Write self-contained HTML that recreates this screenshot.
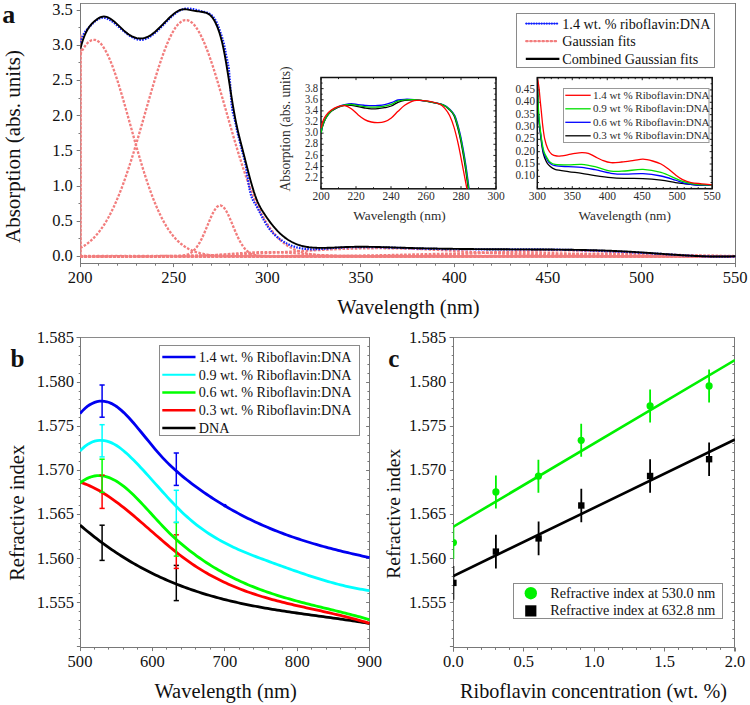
<!DOCTYPE html>
<html><head><meta charset="utf-8"><style>
html,body{margin:0;padding:0;background:#fff;}
svg{display:block;}
text{font-family:"Liberation Serif", serif;fill:#111;}
.it text{fill:#2c2c2c;}
</style></head><body>
<svg width="750" height="705" viewBox="0 0 750 705">
<rect width="750" height="705" fill="#fff"/>
<clipPath id="clipA"><rect x="80.3" y="3.4" width="655.2" height="259.6"/></clipPath>
<line x1="80" y1="3.5" x2="736" y2="3.5" stroke="#8a8a8a" stroke-width="1"/>
<line x1="735.5" y1="3" x2="735.5" y2="267" stroke="#787878" stroke-width="1"/>
<line x1="80.5" y1="3" x2="80.5" y2="267" stroke="#787878" stroke-width="1"/>
<line x1="80" y1="263.5" x2="736" y2="263.5" stroke="#787878" stroke-width="1"/>
<line x1="76.70" y1="256.5" x2="80.5" y2="256.5" stroke="#787878" stroke-width="1"/>
<text transform="translate(72.90,261.10) scale(0.94,1)" font-size="17.6" text-anchor="end">0.0</text>
<line x1="78.50" y1="238.5" x2="80.5" y2="238.5" stroke="#787878" stroke-width="1"/>
<line x1="76.70" y1="221.5" x2="80.5" y2="221.5" stroke="#787878" stroke-width="1"/>
<text transform="translate(72.90,225.95) scale(0.94,1)" font-size="17.6" text-anchor="end">0.5</text>
<line x1="78.50" y1="203.5" x2="80.5" y2="203.5" stroke="#787878" stroke-width="1"/>
<line x1="76.70" y1="186.5" x2="80.5" y2="186.5" stroke="#787878" stroke-width="1"/>
<text transform="translate(72.90,190.80) scale(0.94,1)" font-size="17.6" text-anchor="end">1.0</text>
<line x1="78.50" y1="168.5" x2="80.5" y2="168.5" stroke="#787878" stroke-width="1"/>
<line x1="76.70" y1="150.5" x2="80.5" y2="150.5" stroke="#787878" stroke-width="1"/>
<text transform="translate(72.90,155.65) scale(0.94,1)" font-size="17.6" text-anchor="end">1.5</text>
<line x1="78.50" y1="133.5" x2="80.5" y2="133.5" stroke="#787878" stroke-width="1"/>
<line x1="76.70" y1="115.5" x2="80.5" y2="115.5" stroke="#787878" stroke-width="1"/>
<text transform="translate(72.90,120.50) scale(0.94,1)" font-size="17.6" text-anchor="end">2.0</text>
<line x1="78.50" y1="98.5" x2="80.5" y2="98.5" stroke="#787878" stroke-width="1"/>
<line x1="76.70" y1="80.5" x2="80.5" y2="80.5" stroke="#787878" stroke-width="1"/>
<text transform="translate(72.90,85.35) scale(0.94,1)" font-size="17.6" text-anchor="end">2.5</text>
<line x1="78.50" y1="62.5" x2="80.5" y2="62.5" stroke="#787878" stroke-width="1"/>
<line x1="76.70" y1="45.5" x2="80.5" y2="45.5" stroke="#787878" stroke-width="1"/>
<text transform="translate(72.90,50.20) scale(0.94,1)" font-size="17.6" text-anchor="end">3.0</text>
<line x1="78.50" y1="27.5" x2="80.5" y2="27.5" stroke="#787878" stroke-width="1"/>
<line x1="76.70" y1="10.5" x2="80.5" y2="10.5" stroke="#787878" stroke-width="1"/>
<text transform="translate(72.90,15.05) scale(0.94,1)" font-size="17.6" text-anchor="end">3.5</text>
<line x1="80.5" y1="263.5" x2="80.5" y2="267.10" stroke="#787878" stroke-width="1"/>
<text transform="translate(80.20,282.50) scale(0.94,1)" font-size="17.6" text-anchor="middle">200</text>
<line x1="98.5" y1="263.5" x2="98.5" y2="265.70" stroke="#787878" stroke-width="1"/>
<line x1="117.5" y1="263.5" x2="117.5" y2="265.70" stroke="#787878" stroke-width="1"/>
<line x1="136.5" y1="263.5" x2="136.5" y2="265.70" stroke="#787878" stroke-width="1"/>
<line x1="155.5" y1="263.5" x2="155.5" y2="265.70" stroke="#787878" stroke-width="1"/>
<line x1="173.5" y1="263.5" x2="173.5" y2="267.10" stroke="#787878" stroke-width="1"/>
<text transform="translate(173.75,282.50) scale(0.94,1)" font-size="17.6" text-anchor="middle">250</text>
<line x1="192.5" y1="263.5" x2="192.5" y2="265.70" stroke="#787878" stroke-width="1"/>
<line x1="211.5" y1="263.5" x2="211.5" y2="265.70" stroke="#787878" stroke-width="1"/>
<line x1="229.5" y1="263.5" x2="229.5" y2="265.70" stroke="#787878" stroke-width="1"/>
<line x1="248.5" y1="263.5" x2="248.5" y2="265.70" stroke="#787878" stroke-width="1"/>
<line x1="267.5" y1="263.5" x2="267.5" y2="267.10" stroke="#787878" stroke-width="1"/>
<text transform="translate(267.30,282.50) scale(0.94,1)" font-size="17.6" text-anchor="middle">300</text>
<line x1="286.5" y1="263.5" x2="286.5" y2="265.70" stroke="#787878" stroke-width="1"/>
<line x1="304.5" y1="263.5" x2="304.5" y2="265.70" stroke="#787878" stroke-width="1"/>
<line x1="323.5" y1="263.5" x2="323.5" y2="265.70" stroke="#787878" stroke-width="1"/>
<line x1="342.5" y1="263.5" x2="342.5" y2="265.70" stroke="#787878" stroke-width="1"/>
<line x1="360.5" y1="263.5" x2="360.5" y2="267.10" stroke="#787878" stroke-width="1"/>
<text transform="translate(360.85,282.50) scale(0.94,1)" font-size="17.6" text-anchor="middle">350</text>
<line x1="379.5" y1="263.5" x2="379.5" y2="265.70" stroke="#787878" stroke-width="1"/>
<line x1="398.5" y1="263.5" x2="398.5" y2="265.70" stroke="#787878" stroke-width="1"/>
<line x1="416.5" y1="263.5" x2="416.5" y2="265.70" stroke="#787878" stroke-width="1"/>
<line x1="435.5" y1="263.5" x2="435.5" y2="265.70" stroke="#787878" stroke-width="1"/>
<line x1="454.5" y1="263.5" x2="454.5" y2="267.10" stroke="#787878" stroke-width="1"/>
<text transform="translate(454.40,282.50) scale(0.94,1)" font-size="17.6" text-anchor="middle">400</text>
<line x1="473.5" y1="263.5" x2="473.5" y2="265.70" stroke="#787878" stroke-width="1"/>
<line x1="491.5" y1="263.5" x2="491.5" y2="265.70" stroke="#787878" stroke-width="1"/>
<line x1="510.5" y1="263.5" x2="510.5" y2="265.70" stroke="#787878" stroke-width="1"/>
<line x1="529.5" y1="263.5" x2="529.5" y2="265.70" stroke="#787878" stroke-width="1"/>
<line x1="547.5" y1="263.5" x2="547.5" y2="267.10" stroke="#787878" stroke-width="1"/>
<text transform="translate(547.95,282.50) scale(0.94,1)" font-size="17.6" text-anchor="middle">450</text>
<line x1="566.5" y1="263.5" x2="566.5" y2="265.70" stroke="#787878" stroke-width="1"/>
<line x1="585.5" y1="263.5" x2="585.5" y2="265.70" stroke="#787878" stroke-width="1"/>
<line x1="604.5" y1="263.5" x2="604.5" y2="265.70" stroke="#787878" stroke-width="1"/>
<line x1="622.5" y1="263.5" x2="622.5" y2="265.70" stroke="#787878" stroke-width="1"/>
<line x1="641.5" y1="263.5" x2="641.5" y2="267.10" stroke="#787878" stroke-width="1"/>
<text transform="translate(641.50,282.50) scale(0.94,1)" font-size="17.6" text-anchor="middle">500</text>
<line x1="660.5" y1="263.5" x2="660.5" y2="265.70" stroke="#787878" stroke-width="1"/>
<line x1="678.5" y1="263.5" x2="678.5" y2="265.70" stroke="#787878" stroke-width="1"/>
<line x1="697.5" y1="263.5" x2="697.5" y2="265.70" stroke="#787878" stroke-width="1"/>
<line x1="716.5" y1="263.5" x2="716.5" y2="265.70" stroke="#787878" stroke-width="1"/>
<line x1="735.5" y1="263.5" x2="735.5" y2="267.10" stroke="#787878" stroke-width="1"/>
<text transform="translate(735.05,282.50) scale(0.94,1)" font-size="17.6" text-anchor="middle">550</text>
<text x="408.50" y="313.50" font-size="20.5" text-anchor="middle" >Wavelength (nm)</text>
<text x="0" y="0" font-size="21" text-anchor="middle" transform="translate(19.6,146.5) rotate(-90)">Absorption (abs. units)</text>
<text x="2.30" y="23.30" font-size="26" text-anchor="start" font-weight="bold">a</text>
<g clip-path="url(#clipA)">
<path d="M80.3,256.50 L735.5,256.50" stroke="#f6b0b0" stroke-width="2.0" fill="none"/>
<path d="M80.3,256.60 L735.5,256.60" stroke="#f27d7d" stroke-width="2.2" fill="none" stroke-dasharray="2.6 1.5"/>
<path d="M80.3,255.50 L585.37,255.50" stroke="#f27d7d" stroke-width="1.6" fill="none" stroke-dasharray="2 2.5" stroke-dashoffset="1"/>
<path d="M81.0,256.30 L81.0,34.86" stroke="#f5a5a5" stroke-width="1.3" fill="none"/>
<path d="M81.0,256.30 L81.0,34.86" stroke="#f27d7d" stroke-width="1.5" fill="none" stroke-dasharray="2.6 1.5"/>
<path d="M80.20,54.43 L82.07,50.79 L83.94,47.63 L85.81,44.98 L87.68,42.85 L89.56,41.28 L91.43,40.26 L93.30,39.80 L95.17,39.92 L97.04,40.60 L98.91,41.84 L100.78,43.64 L102.65,45.97 L104.52,48.83 L106.39,52.19 L108.27,56.02 L110.14,60.29 L112.01,64.97 L113.88,70.04 L115.75,75.44 L117.62,81.15 L119.49,87.13 L121.36,93.33 L123.23,99.72 L125.10,106.25 L126.97,112.88 L128.85,119.59 L130.72,126.32 L132.59,133.04 L134.46,139.73 L136.33,146.34 L138.20,152.85 L140.07,159.23 L141.94,165.45 L143.81,171.50 L145.69,177.35 L147.56,183.00 L149.43,188.41 L151.30,193.60 L153.17,198.54 L155.04,203.23 L156.91,207.66 L158.78,211.85 L160.65,215.78 L162.52,219.46 L164.39,222.89 L166.27,226.08 L168.14,229.04 L170.01,231.78 L171.88,234.30 L173.75,236.61 L175.62,238.72 L177.49,240.65 L179.36,242.41 L181.23,244.00 L183.11,245.43 L184.98,246.73 L186.85,247.89 L188.72,248.93 L190.59,249.86 L192.46,250.68 L194.33,251.42 L196.20,252.07 L198.07,252.64 L199.94,253.14 L201.81,253.58 L203.69,253.97 L205.56,254.30 L207.43,254.60 L209.30,254.85 L211.17,255.07 L213.04,255.26 L214.91,255.42 L216.78,255.56 L218.65,255.68 L220.52,255.78 L222.40,255.86 L224.27,255.94 L226.14,256.00 L228.01,256.05 L229.88,256.09 L231.75,256.13 L233.62,256.16 L235.49,256.18 L237.36,256.21 L239.24,256.22 L241.11,256.24 L242.98,256.25 L244.85,256.26 L246.72,256.27 L248.59,256.27 L250.46,256.28 L252.33,256.28 L254.20,256.29 L256.07,256.29 L257.94,256.29 L259.82,256.29 L261.69,256.29 L263.56,256.30 L265.43,256.30 L267.30,256.30 L269.17,256.30 L271.04,256.30 L272.91,256.30 L274.78,256.30 L276.66,256.30 L278.53,256.30 L280.40,256.30 L282.27,256.30 L284.14,256.30 L286.01,256.30 L287.88,256.30 L289.75,256.30 L291.62,256.30 L293.49,256.30 L295.37,256.30 L297.24,256.30 L299.11,256.30 L300.98,256.30 L302.85,256.30 L304.72,256.30 L306.59,256.30 L308.46,256.30 L310.33,256.30 L312.20,256.30 L314.07,256.30 L315.95,256.30 L317.82,256.30 L319.69,256.30 L321.56,256.30 L323.43,256.30 L325.30,256.30 L327.17,256.30 L329.04,256.30 L330.91,256.30 L332.79,256.30 L334.66,256.30 L336.53,256.30 L338.40,256.30 L340.27,256.30 L342.14,256.30 L344.01,256.30 L345.88,256.30 L347.75,256.30 L349.62,256.30 L351.50,256.30 L353.37,256.30 L355.24,256.30 L357.11,256.30 L358.98,256.30 L360.85,256.30 L362.72,256.30 L364.59,256.30 L366.46,256.30 L368.33,256.30 L370.20,256.30 L372.08,256.30 L373.95,256.30 L375.82,256.30 L377.69,256.30 L379.56,256.30 L381.43,256.30 L383.30,256.30 L385.17,256.30 L387.04,256.30 L388.91,256.30 L390.79,256.30 L392.66,256.30 L394.53,256.30 L396.40,256.30 L398.27,256.30 L400.14,256.30 L402.01,256.30 L403.88,256.30 L405.75,256.30 L407.62,256.30 L409.50,256.30 L411.37,256.30 L413.24,256.30 L415.11,256.30 L416.98,256.30 L418.85,256.30 L420.72,256.30 L422.59,256.30 L424.46,256.30 L426.33,256.30 L428.21,256.30 L430.08,256.30 L431.95,256.30 L433.82,256.30 L435.69,256.30 L437.56,256.30 L439.43,256.30 L441.30,256.30 L443.17,256.30 L445.05,256.30 L446.92,256.30 L448.79,256.30 L450.66,256.30 L452.53,256.30 L454.40,256.30 L456.27,256.30 L458.14,256.30 L460.01,256.30 L461.88,256.30 L463.75,256.30 L465.63,256.30 L467.50,256.30 L469.37,256.30 L471.24,256.30 L473.11,256.30 L474.98,256.30 L476.85,256.30 L478.72,256.30 L480.59,256.30 L482.46,256.30 L484.34,256.30 L486.21,256.30 L488.08,256.30 L489.95,256.30 L491.82,256.30 L493.69,256.30 L495.56,256.30 L497.43,256.30 L499.30,256.30 L501.18,256.30 L503.05,256.30 L504.92,256.30 L506.79,256.30 L508.66,256.30 L510.53,256.30 L512.40,256.30 L514.27,256.30 L516.14,256.30 L518.01,256.30 L519.88,256.30 L521.76,256.30 L523.63,256.30 L525.50,256.30 L527.37,256.30 L529.24,256.30 L531.11,256.30 L532.98,256.30 L534.85,256.30 L536.72,256.30 L538.60,256.30 L540.47,256.30 L542.34,256.30 L544.21,256.30 L546.08,256.30 L547.95,256.30 L549.82,256.30 L551.69,256.30 L553.56,256.30 L555.43,256.30 L557.31,256.30 L559.18,256.30 L561.05,256.30 L562.92,256.30 L564.79,256.30 L566.66,256.30 L568.53,256.30 L570.40,256.30 L572.27,256.30 L574.14,256.30 L576.01,256.30 L577.89,256.30 L579.76,256.30 L581.63,256.30 L583.50,256.30 L585.37,256.30 L587.24,256.30 L589.11,256.30 L590.98,256.30 L592.85,256.30 L594.73,256.30 L596.60,256.30 L598.47,256.30 L600.34,256.30 L602.21,256.30 L604.08,256.30 L605.95,256.30 L607.82,256.30 L609.69,256.30 L611.56,256.30 L613.44,256.30 L615.31,256.30 L617.18,256.30 L619.05,256.30 L620.92,256.30 L622.79,256.30 L624.66,256.30 L626.53,256.30 L628.40,256.30 L630.27,256.30 L632.15,256.30 L634.02,256.30 L635.89,256.30 L637.76,256.30 L639.63,256.30 L641.50,256.30 L643.37,256.30 L645.24,256.30 L647.11,256.30 L648.98,256.30 L650.86,256.30 L652.73,256.30 L654.60,256.30 L656.47,256.30 L658.34,256.30 L660.21,256.30 L662.08,256.30 L663.95,256.30 L665.82,256.30 L667.69,256.30 L669.57,256.30 L671.44,256.30 L673.31,256.30 L675.18,256.30 L677.05,256.30 L678.92,256.30 L680.79,256.30 L682.66,256.30 L684.53,256.30 L686.40,256.30 L688.28,256.30 L690.15,256.30 L692.02,256.30 L693.89,256.30 L695.76,256.30 L697.63,256.30 L699.50,256.30 L701.37,256.30 L703.24,256.30 L705.11,256.30 L706.99,256.30 L708.86,256.30 L710.73,256.30 L712.60,256.30 L714.47,256.30 L716.34,256.30 L718.21,256.30 L720.08,256.30 L721.95,256.30 L723.82,256.30 L725.70,256.30 L727.57,256.30 L729.44,256.30 L731.31,256.30 L733.18,256.30 L735.05,256.30" stroke="#f27d7d" stroke-width="2.3" fill="none" stroke-dasharray="2.6 1.5"/>
<path d="M80.20,248.08 L82.07,247.06 L83.94,245.92 L85.81,244.67 L87.68,243.30 L89.56,241.80 L91.43,240.16 L93.30,238.36 L95.17,236.42 L97.04,234.30 L98.91,232.02 L100.78,229.55 L102.65,226.89 L104.52,224.04 L106.39,220.98 L108.27,217.72 L110.14,214.24 L112.01,210.55 L113.88,206.64 L115.75,202.50 L117.62,198.15 L119.49,193.57 L121.36,188.78 L123.23,183.77 L125.10,178.56 L126.97,173.14 L128.85,167.53 L130.72,161.75 L132.59,155.80 L134.46,149.70 L136.33,143.47 L138.20,137.13 L140.07,130.69 L141.94,124.18 L143.81,117.63 L145.69,111.06 L147.56,104.50 L149.43,97.97 L151.30,91.52 L153.17,85.16 L155.04,78.92 L156.91,72.85 L158.78,66.97 L160.65,61.31 L162.52,55.90 L164.39,50.77 L166.27,45.96 L168.14,41.49 L170.01,37.38 L171.88,33.67 L173.75,30.36 L175.62,27.49 L177.49,25.07 L179.36,23.12 L181.23,21.64 L183.11,20.65 L184.98,20.15 L186.85,20.15 L188.72,20.65 L190.59,21.64 L192.46,23.12 L194.33,25.07 L196.20,27.49 L198.07,30.36 L199.94,33.67 L201.81,37.38 L203.69,41.49 L205.56,45.96 L207.43,50.77 L209.30,55.90 L211.17,61.31 L213.04,66.97 L214.91,72.85 L216.78,78.92 L218.65,85.16 L220.52,91.52 L222.40,97.97 L224.27,104.50 L226.14,111.06 L228.01,117.63 L229.88,124.18 L231.75,130.69 L233.62,137.13 L235.49,143.47 L237.36,149.70 L239.24,155.80 L241.11,161.75 L242.98,167.53 L244.85,173.14 L246.72,178.56 L248.59,183.77 L250.46,188.78 L252.33,193.57 L254.20,198.15 L256.07,202.50 L257.94,206.64 L259.82,210.55 L261.69,214.24 L263.56,217.72 L265.43,220.98 L267.30,224.04 L269.17,226.89 L271.04,229.55 L272.91,232.02 L274.78,234.30 L276.66,236.42 L278.53,238.36 L280.40,240.16 L282.27,241.80 L284.14,243.30 L286.01,244.67 L287.88,245.92 L289.75,247.06 L291.62,248.08 L293.49,249.01 L295.37,249.85 L297.24,250.60 L299.11,251.28 L300.98,251.88 L302.85,252.42 L304.72,252.90 L306.59,253.33 L308.46,253.71 L310.33,254.05 L312.20,254.34 L314.07,254.60 L315.95,254.83 L317.82,255.03 L319.69,255.21 L321.56,255.36 L323.43,255.50 L325.30,255.61 L327.17,255.71 L329.04,255.80 L330.91,255.87 L332.79,255.94 L334.66,255.99 L336.53,256.04 L338.40,256.08 L340.27,256.12 L342.14,256.15 L344.01,256.17 L345.88,256.19 L347.75,256.21 L349.62,256.23 L351.50,256.24 L353.37,256.25 L355.24,256.26 L357.11,256.26 L358.98,256.27 L360.85,256.28 L362.72,256.28 L364.59,256.28 L366.46,256.29 L368.33,256.29 L370.20,256.29 L372.08,256.29 L373.95,256.29 L375.82,256.30 L377.69,256.30 L379.56,256.30 L381.43,256.30 L383.30,256.30 L385.17,256.30 L387.04,256.30 L388.91,256.30 L390.79,256.30 L392.66,256.30 L394.53,256.30 L396.40,256.30 L398.27,256.30 L400.14,256.30 L402.01,256.30 L403.88,256.30 L405.75,256.30 L407.62,256.30 L409.50,256.30 L411.37,256.30 L413.24,256.30 L415.11,256.30 L416.98,256.30 L418.85,256.30 L420.72,256.30 L422.59,256.30 L424.46,256.30 L426.33,256.30 L428.21,256.30 L430.08,256.30 L431.95,256.30 L433.82,256.30 L435.69,256.30 L437.56,256.30 L439.43,256.30 L441.30,256.30 L443.17,256.30 L445.05,256.30 L446.92,256.30 L448.79,256.30 L450.66,256.30 L452.53,256.30 L454.40,256.30 L456.27,256.30 L458.14,256.30 L460.01,256.30 L461.88,256.30 L463.75,256.30 L465.63,256.30 L467.50,256.30 L469.37,256.30 L471.24,256.30 L473.11,256.30 L474.98,256.30 L476.85,256.30 L478.72,256.30 L480.59,256.30 L482.46,256.30 L484.34,256.30 L486.21,256.30 L488.08,256.30 L489.95,256.30 L491.82,256.30 L493.69,256.30 L495.56,256.30 L497.43,256.30 L499.30,256.30 L501.18,256.30 L503.05,256.30 L504.92,256.30 L506.79,256.30 L508.66,256.30 L510.53,256.30 L512.40,256.30 L514.27,256.30 L516.14,256.30 L518.01,256.30 L519.88,256.30 L521.76,256.30 L523.63,256.30 L525.50,256.30 L527.37,256.30 L529.24,256.30 L531.11,256.30 L532.98,256.30 L534.85,256.30 L536.72,256.30 L538.60,256.30 L540.47,256.30 L542.34,256.30 L544.21,256.30 L546.08,256.30 L547.95,256.30 L549.82,256.30 L551.69,256.30 L553.56,256.30 L555.43,256.30 L557.31,256.30 L559.18,256.30 L561.05,256.30 L562.92,256.30 L564.79,256.30 L566.66,256.30 L568.53,256.30 L570.40,256.30 L572.27,256.30 L574.14,256.30 L576.01,256.30 L577.89,256.30 L579.76,256.30 L581.63,256.30 L583.50,256.30 L585.37,256.30 L587.24,256.30 L589.11,256.30 L590.98,256.30 L592.85,256.30 L594.73,256.30 L596.60,256.30 L598.47,256.30 L600.34,256.30 L602.21,256.30 L604.08,256.30 L605.95,256.30 L607.82,256.30 L609.69,256.30 L611.56,256.30 L613.44,256.30 L615.31,256.30 L617.18,256.30 L619.05,256.30 L620.92,256.30 L622.79,256.30 L624.66,256.30 L626.53,256.30 L628.40,256.30 L630.27,256.30 L632.15,256.30 L634.02,256.30 L635.89,256.30 L637.76,256.30 L639.63,256.30 L641.50,256.30 L643.37,256.30 L645.24,256.30 L647.11,256.30 L648.98,256.30 L650.86,256.30 L652.73,256.30 L654.60,256.30 L656.47,256.30 L658.34,256.30 L660.21,256.30 L662.08,256.30 L663.95,256.30 L665.82,256.30 L667.69,256.30 L669.57,256.30 L671.44,256.30 L673.31,256.30 L675.18,256.30 L677.05,256.30 L678.92,256.30 L680.79,256.30 L682.66,256.30 L684.53,256.30 L686.40,256.30 L688.28,256.30 L690.15,256.30 L692.02,256.30 L693.89,256.30 L695.76,256.30 L697.63,256.30 L699.50,256.30 L701.37,256.30 L703.24,256.30 L705.11,256.30 L706.99,256.30 L708.86,256.30 L710.73,256.30 L712.60,256.30 L714.47,256.30 L716.34,256.30 L718.21,256.30 L720.08,256.30 L721.95,256.30 L723.82,256.30 L725.70,256.30 L727.57,256.30 L729.44,256.30 L731.31,256.30 L733.18,256.30 L735.05,256.30" stroke="#f27d7d" stroke-width="2.3" fill="none" stroke-dasharray="2.6 1.5"/>
<path d="M80.20,256.30 L82.07,256.30 L83.94,256.30 L85.81,256.30 L87.68,256.30 L89.56,256.30 L91.43,256.30 L93.30,256.30 L95.17,256.30 L97.04,256.30 L98.91,256.30 L100.78,256.30 L102.65,256.30 L104.52,256.30 L106.39,256.30 L108.27,256.30 L110.14,256.30 L112.01,256.30 L113.88,256.30 L115.75,256.30 L117.62,256.30 L119.49,256.30 L121.36,256.30 L123.23,256.30 L125.10,256.30 L126.97,256.30 L128.85,256.30 L130.72,256.30 L132.59,256.30 L134.46,256.30 L136.33,256.30 L138.20,256.30 L140.07,256.30 L141.94,256.30 L143.81,256.30 L145.69,256.30 L147.56,256.30 L149.43,256.30 L151.30,256.30 L153.17,256.30 L155.04,256.30 L156.91,256.30 L158.78,256.30 L160.65,256.30 L162.52,256.30 L164.39,256.30 L166.27,256.29 L168.14,256.29 L170.01,256.28 L171.88,256.27 L173.75,256.24 L175.62,256.20 L177.49,256.13 L179.36,256.02 L181.23,255.85 L183.11,255.60 L184.98,255.24 L186.85,254.71 L188.72,253.98 L190.59,252.99 L192.46,251.67 L194.33,249.96 L196.20,247.82 L198.07,245.21 L199.94,242.10 L201.81,238.50 L203.69,234.49 L205.56,230.14 L207.43,225.61 L209.30,221.08 L211.17,216.74 L213.04,212.84 L214.91,209.59 L216.78,207.18 L218.65,205.76 L220.52,205.43 L222.40,206.20 L224.27,208.03 L226.14,210.80 L228.01,214.34 L229.88,218.44 L231.75,222.88 L233.62,227.44 L235.49,231.91 L237.36,236.14 L239.24,240.00 L241.11,243.40 L242.98,246.31 L244.85,248.74 L246.72,250.70 L248.59,252.24 L250.46,253.42 L252.33,254.30 L254.20,254.94 L256.07,255.40 L257.94,255.71 L259.82,255.93 L261.69,256.07 L263.56,256.16 L265.43,256.22 L267.30,256.25 L269.17,256.27 L271.04,256.28 L272.91,256.29 L274.78,256.30 L276.66,256.30 L278.53,256.30 L280.40,256.30 L282.27,256.30 L284.14,256.30 L286.01,256.30 L287.88,256.30 L289.75,256.30 L291.62,256.30 L293.49,256.30 L295.37,256.30 L297.24,256.30 L299.11,256.30 L300.98,256.30 L302.85,256.30 L304.72,256.30 L306.59,256.30 L308.46,256.30 L310.33,256.30 L312.20,256.30 L314.07,256.30 L315.95,256.30 L317.82,256.30 L319.69,256.30 L321.56,256.30 L323.43,256.30 L325.30,256.30 L327.17,256.30 L329.04,256.30 L330.91,256.30 L332.79,256.30 L334.66,256.30 L336.53,256.30 L338.40,256.30 L340.27,256.30 L342.14,256.30 L344.01,256.30 L345.88,256.30 L347.75,256.30 L349.62,256.30 L351.50,256.30 L353.37,256.30 L355.24,256.30 L357.11,256.30 L358.98,256.30 L360.85,256.30 L362.72,256.30 L364.59,256.30 L366.46,256.30 L368.33,256.30 L370.20,256.30 L372.08,256.30 L373.95,256.30 L375.82,256.30 L377.69,256.30 L379.56,256.30 L381.43,256.30 L383.30,256.30 L385.17,256.30 L387.04,256.30 L388.91,256.30 L390.79,256.30 L392.66,256.30 L394.53,256.30 L396.40,256.30 L398.27,256.30 L400.14,256.30 L402.01,256.30 L403.88,256.30 L405.75,256.30 L407.62,256.30 L409.50,256.30 L411.37,256.30 L413.24,256.30 L415.11,256.30 L416.98,256.30 L418.85,256.30 L420.72,256.30 L422.59,256.30 L424.46,256.30 L426.33,256.30 L428.21,256.30 L430.08,256.30 L431.95,256.30 L433.82,256.30 L435.69,256.30 L437.56,256.30 L439.43,256.30 L441.30,256.30 L443.17,256.30 L445.05,256.30 L446.92,256.30 L448.79,256.30 L450.66,256.30 L452.53,256.30 L454.40,256.30 L456.27,256.30 L458.14,256.30 L460.01,256.30 L461.88,256.30 L463.75,256.30 L465.63,256.30 L467.50,256.30 L469.37,256.30 L471.24,256.30 L473.11,256.30 L474.98,256.30 L476.85,256.30 L478.72,256.30 L480.59,256.30 L482.46,256.30 L484.34,256.30 L486.21,256.30 L488.08,256.30 L489.95,256.30 L491.82,256.30 L493.69,256.30 L495.56,256.30 L497.43,256.30 L499.30,256.30 L501.18,256.30 L503.05,256.30 L504.92,256.30 L506.79,256.30 L508.66,256.30 L510.53,256.30 L512.40,256.30 L514.27,256.30 L516.14,256.30 L518.01,256.30 L519.88,256.30 L521.76,256.30 L523.63,256.30 L525.50,256.30 L527.37,256.30 L529.24,256.30 L531.11,256.30 L532.98,256.30 L534.85,256.30 L536.72,256.30 L538.60,256.30 L540.47,256.30 L542.34,256.30 L544.21,256.30 L546.08,256.30 L547.95,256.30 L549.82,256.30 L551.69,256.30 L553.56,256.30 L555.43,256.30 L557.31,256.30 L559.18,256.30 L561.05,256.30 L562.92,256.30 L564.79,256.30 L566.66,256.30 L568.53,256.30 L570.40,256.30 L572.27,256.30 L574.14,256.30 L576.01,256.30 L577.89,256.30 L579.76,256.30 L581.63,256.30 L583.50,256.30 L585.37,256.30 L587.24,256.30 L589.11,256.30 L590.98,256.30 L592.85,256.30 L594.73,256.30 L596.60,256.30 L598.47,256.30 L600.34,256.30 L602.21,256.30 L604.08,256.30 L605.95,256.30 L607.82,256.30 L609.69,256.30 L611.56,256.30 L613.44,256.30 L615.31,256.30 L617.18,256.30 L619.05,256.30 L620.92,256.30 L622.79,256.30 L624.66,256.30 L626.53,256.30 L628.40,256.30 L630.27,256.30 L632.15,256.30 L634.02,256.30 L635.89,256.30 L637.76,256.30 L639.63,256.30 L641.50,256.30 L643.37,256.30 L645.24,256.30 L647.11,256.30 L648.98,256.30 L650.86,256.30 L652.73,256.30 L654.60,256.30 L656.47,256.30 L658.34,256.30 L660.21,256.30 L662.08,256.30 L663.95,256.30 L665.82,256.30 L667.69,256.30 L669.57,256.30 L671.44,256.30 L673.31,256.30 L675.18,256.30 L677.05,256.30 L678.92,256.30 L680.79,256.30 L682.66,256.30 L684.53,256.30 L686.40,256.30 L688.28,256.30 L690.15,256.30 L692.02,256.30 L693.89,256.30 L695.76,256.30 L697.63,256.30 L699.50,256.30 L701.37,256.30 L703.24,256.30 L705.11,256.30 L706.99,256.30 L708.86,256.30 L710.73,256.30 L712.60,256.30 L714.47,256.30 L716.34,256.30 L718.21,256.30 L720.08,256.30 L721.95,256.30 L723.82,256.30 L725.70,256.30 L727.57,256.30 L729.44,256.30 L731.31,256.30 L733.18,256.30 L735.05,256.30" stroke="#f27d7d" stroke-width="2.3" fill="none" stroke-dasharray="2.6 1.5"/>
<path d="M80.20,256.29 L82.07,256.28 L83.94,256.28 L85.81,256.28 L87.68,256.28 L89.56,256.28 L91.43,256.28 L93.30,256.28 L95.17,256.27 L97.04,256.27 L98.91,256.27 L100.78,256.27 L102.65,256.26 L104.52,256.26 L106.39,256.26 L108.27,256.26 L110.14,256.25 L112.01,256.25 L113.88,256.24 L115.75,256.24 L117.62,256.24 L119.49,256.23 L121.36,256.23 L123.23,256.22 L125.10,256.22 L126.97,256.21 L128.85,256.20 L130.72,256.20 L132.59,256.19 L134.46,256.18 L136.33,256.18 L138.20,256.17 L140.07,256.16 L141.94,256.15 L143.81,256.14 L145.69,256.13 L147.56,256.12 L149.43,256.11 L151.30,256.10 L153.17,256.08 L155.04,256.07 L156.91,256.06 L158.78,256.04 L160.65,256.02 L162.52,256.01 L164.39,255.99 L166.27,255.97 L168.14,255.95 L170.01,255.93 L171.88,255.91 L173.75,255.89 L175.62,255.87 L177.49,255.85 L179.36,255.82 L181.23,255.80 L183.11,255.77 L184.98,255.74 L186.85,255.71 L188.72,255.68 L190.59,255.65 L192.46,255.62 L194.33,255.58 L196.20,255.55 L198.07,255.51 L199.94,255.47 L201.81,255.43 L203.69,255.39 L205.56,255.34 L207.43,255.30 L209.30,255.25 L211.17,255.21 L213.04,255.16 L214.91,255.11 L216.78,255.05 L218.65,255.00 L220.52,254.94 L222.40,254.88 L224.27,254.82 L226.14,254.76 L228.01,254.70 L229.88,254.64 L231.75,254.57 L233.62,254.50 L235.49,254.43 L237.36,254.36 L239.24,254.28 L241.11,254.21 L242.98,254.13 L244.85,254.05 L246.72,253.97 L248.59,253.89 L250.46,253.80 L252.33,253.72 L254.20,253.63 L256.07,253.54 L257.94,253.45 L259.82,253.36 L261.69,253.27 L263.56,253.17 L265.43,253.07 L267.30,252.98 L269.17,252.88 L271.04,252.78 L272.91,252.68 L274.78,252.57 L276.66,252.47 L278.53,252.36 L280.40,252.26 L282.27,252.15 L284.14,252.05 L286.01,251.94 L287.88,251.83 L289.75,251.72 L291.62,251.61 L293.49,251.51 L295.37,251.40 L297.24,251.29 L299.11,251.18 L300.98,251.07 L302.85,250.96 L304.72,250.85 L306.59,250.75 L308.46,250.64 L310.33,250.53 L312.20,250.43 L314.07,250.33 L315.95,250.22 L317.82,250.12 L319.69,250.02 L321.56,249.92 L323.43,249.83 L325.30,249.73 L327.17,249.64 L329.04,249.55 L330.91,249.46 L332.79,249.37 L334.66,249.29 L336.53,249.21 L338.40,249.13 L340.27,249.05 L342.14,248.98 L344.01,248.90 L345.88,248.84 L347.75,248.77 L349.62,248.71 L351.50,248.65 L353.37,248.60 L355.24,248.55 L357.11,248.50 L358.98,248.45 L360.85,248.41 L362.72,248.38 L364.59,248.34 L366.46,248.31 L368.33,248.29 L370.20,248.27 L372.08,248.25 L373.95,248.23 L375.82,248.22 L377.69,248.22 L379.56,248.22 L381.43,248.22 L383.30,248.22 L385.17,248.23 L387.04,248.25 L388.91,248.27 L390.79,248.29 L392.66,248.31 L394.53,248.34 L396.40,248.38 L398.27,248.41 L400.14,248.45 L402.01,248.50 L403.88,248.55 L405.75,248.60 L407.62,248.65 L409.50,248.71 L411.37,248.77 L413.24,248.84 L415.11,248.90 L416.98,248.98 L418.85,249.05 L420.72,249.13 L422.59,249.21 L424.46,249.29 L426.33,249.37 L428.21,249.46 L430.08,249.55 L431.95,249.64 L433.82,249.73 L435.69,249.83 L437.56,249.92 L439.43,250.02 L441.30,250.12 L443.17,250.22 L445.05,250.33 L446.92,250.43 L448.79,250.53 L450.66,250.64 L452.53,250.75 L454.40,250.85 L456.27,250.96 L458.14,251.07 L460.01,251.18 L461.88,251.29 L463.75,251.40 L465.63,251.51 L467.50,251.61 L469.37,251.72 L471.24,251.83 L473.11,251.94 L474.98,252.05 L476.85,252.15 L478.72,252.26 L480.59,252.36 L482.46,252.47 L484.34,252.57 L486.21,252.68 L488.08,252.78 L489.95,252.88 L491.82,252.98 L493.69,253.07 L495.56,253.17 L497.43,253.27 L499.30,253.36 L501.18,253.45 L503.05,253.54 L504.92,253.63 L506.79,253.72 L508.66,253.80 L510.53,253.89 L512.40,253.97 L514.27,254.05 L516.14,254.13 L518.01,254.21 L519.88,254.28 L521.76,254.36 L523.63,254.43 L525.50,254.50 L527.37,254.57 L529.24,254.64 L531.11,254.70 L532.98,254.76 L534.85,254.82 L536.72,254.88 L538.60,254.94 L540.47,255.00 L542.34,255.05 L544.21,255.11 L546.08,255.16 L547.95,255.21 L549.82,255.25 L551.69,255.30 L553.56,255.34 L555.43,255.39 L557.31,255.43 L559.18,255.47 L561.05,255.51 L562.92,255.55 L564.79,255.58 L566.66,255.62 L568.53,255.65 L570.40,255.68 L572.27,255.71 L574.14,255.74 L576.01,255.77 L577.89,255.80 L579.76,255.82 L581.63,255.85 L583.50,255.87 L585.37,255.89 L587.24,255.91 L589.11,255.93 L590.98,255.95 L592.85,255.97 L594.73,255.99 L596.60,256.01 L598.47,256.02 L600.34,256.04 L602.21,256.06 L604.08,256.07 L605.95,256.08 L607.82,256.10 L609.69,256.11 L611.56,256.12 L613.44,256.13 L615.31,256.14 L617.18,256.15 L619.05,256.16 L620.92,256.17 L622.79,256.18 L624.66,256.18 L626.53,256.19 L628.40,256.20 L630.27,256.20 L632.15,256.21 L634.02,256.22 L635.89,256.22 L637.76,256.23 L639.63,256.23 L641.50,256.24 L643.37,256.24 L645.24,256.24 L647.11,256.25 L648.98,256.25 L650.86,256.26 L652.73,256.26 L654.60,256.26 L656.47,256.26 L658.34,256.27 L660.21,256.27 L662.08,256.27 L663.95,256.27 L665.82,256.28 L667.69,256.28 L669.57,256.28 L671.44,256.28 L673.31,256.28 L675.18,256.28 L677.05,256.28 L678.92,256.29 L680.79,256.29 L682.66,256.29 L684.53,256.29 L686.40,256.29 L688.28,256.29 L690.15,256.29 L692.02,256.29 L693.89,256.29 L695.76,256.29 L697.63,256.29 L699.50,256.29 L701.37,256.29 L703.24,256.30 L705.11,256.30 L706.99,256.30 L708.86,256.30 L710.73,256.30 L712.60,256.30 L714.47,256.30 L716.34,256.30 L718.21,256.30 L720.08,256.30 L721.95,256.30 L723.82,256.30 L725.70,256.30 L727.57,256.30 L729.44,256.30 L731.31,256.30 L733.18,256.30 L735.05,256.30" stroke="#f27d7d" stroke-width="2.3" fill="none" stroke-dasharray="2.6 1.5"/>
<path d="M80.20,256.30 L82.07,256.30 L83.94,256.30 L85.81,256.30 L87.68,256.30 L89.56,256.30 L91.43,256.30 L93.30,256.30 L95.17,256.30 L97.04,256.30 L98.91,256.30 L100.78,256.30 L102.65,256.30 L104.52,256.30 L106.39,256.30 L108.27,256.30 L110.14,256.30 L112.01,256.30 L113.88,256.30 L115.75,256.30 L117.62,256.30 L119.49,256.30 L121.36,256.30 L123.23,256.30 L125.10,256.30 L126.97,256.30 L128.85,256.30 L130.72,256.30 L132.59,256.30 L134.46,256.30 L136.33,256.30 L138.20,256.30 L140.07,256.30 L141.94,256.30 L143.81,256.30 L145.69,256.30 L147.56,256.30 L149.43,256.30 L151.30,256.30 L153.17,256.30 L155.04,256.30 L156.91,256.30 L158.78,256.30 L160.65,256.30 L162.52,256.30 L164.39,256.30 L166.27,256.30 L168.14,256.30 L170.01,256.30 L171.88,256.30 L173.75,256.30 L175.62,256.30 L177.49,256.30 L179.36,256.30 L181.23,256.30 L183.11,256.30 L184.98,256.30 L186.85,256.30 L188.72,256.30 L190.59,256.30 L192.46,256.30 L194.33,256.30 L196.20,256.30 L198.07,256.30 L199.94,256.30 L201.81,256.30 L203.69,256.30 L205.56,256.30 L207.43,256.30 L209.30,256.30 L211.17,256.30 L213.04,256.30 L214.91,256.30 L216.78,256.30 L218.65,256.30 L220.52,256.30 L222.40,256.30 L224.27,256.30 L226.14,256.30 L228.01,256.30 L229.88,256.30 L231.75,256.30 L233.62,256.30 L235.49,256.30 L237.36,256.30 L239.24,256.30 L241.11,256.30 L242.98,256.30 L244.85,256.30 L246.72,256.30 L248.59,256.30 L250.46,256.30 L252.33,256.30 L254.20,256.30 L256.07,256.30 L257.94,256.30 L259.82,256.30 L261.69,256.30 L263.56,256.30 L265.43,256.30 L267.30,256.30 L269.17,256.30 L271.04,256.30 L272.91,256.30 L274.78,256.30 L276.66,256.30 L278.53,256.30 L280.40,256.30 L282.27,256.30 L284.14,256.30 L286.01,256.30 L287.88,256.30 L289.75,256.29 L291.62,256.29 L293.49,256.29 L295.37,256.29 L297.24,256.29 L299.11,256.29 L300.98,256.29 L302.85,256.29 L304.72,256.29 L306.59,256.29 L308.46,256.29 L310.33,256.29 L312.20,256.28 L314.07,256.28 L315.95,256.28 L317.82,256.28 L319.69,256.28 L321.56,256.28 L323.43,256.27 L325.30,256.27 L327.17,256.27 L329.04,256.27 L330.91,256.26 L332.79,256.26 L334.66,256.26 L336.53,256.25 L338.40,256.25 L340.27,256.24 L342.14,256.24 L344.01,256.23 L345.88,256.23 L347.75,256.22 L349.62,256.22 L351.50,256.21 L353.37,256.20 L355.24,256.19 L357.11,256.19 L358.98,256.18 L360.85,256.17 L362.72,256.16 L364.59,256.15 L366.46,256.14 L368.33,256.13 L370.20,256.11 L372.08,256.10 L373.95,256.09 L375.82,256.07 L377.69,256.05 L379.56,256.04 L381.43,256.02 L383.30,256.00 L385.17,255.98 L387.04,255.96 L388.91,255.94 L390.79,255.92 L392.66,255.89 L394.53,255.87 L396.40,255.84 L398.27,255.81 L400.14,255.78 L402.01,255.75 L403.88,255.72 L405.75,255.68 L407.62,255.65 L409.50,255.61 L411.37,255.57 L413.24,255.53 L415.11,255.49 L416.98,255.45 L418.85,255.40 L420.72,255.36 L422.59,255.31 L424.46,255.26 L426.33,255.20 L428.21,255.15 L430.08,255.09 L431.95,255.04 L433.82,254.98 L435.69,254.92 L437.56,254.85 L439.43,254.79 L441.30,254.72 L443.17,254.65 L445.05,254.58 L446.92,254.51 L448.79,254.44 L450.66,254.36 L452.53,254.28 L454.40,254.20 L456.27,254.12 L458.14,254.04 L460.01,253.96 L461.88,253.87 L463.75,253.79 L465.63,253.70 L467.50,253.61 L469.37,253.52 L471.24,253.43 L473.11,253.34 L474.98,253.24 L476.85,253.15 L478.72,253.06 L480.59,252.96 L482.46,252.87 L484.34,252.77 L486.21,252.68 L488.08,252.58 L489.95,252.49 L491.82,252.39 L493.69,252.30 L495.56,252.20 L497.43,252.11 L499.30,252.02 L501.18,251.92 L503.05,251.83 L504.92,251.75 L506.79,251.66 L508.66,251.57 L510.53,251.49 L512.40,251.40 L514.27,251.32 L516.14,251.25 L518.01,251.17 L519.88,251.10 L521.76,251.03 L523.63,250.96 L525.50,250.89 L527.37,250.83 L529.24,250.77 L531.11,250.72 L532.98,250.66 L534.85,250.62 L536.72,250.57 L538.60,250.53 L540.47,250.49 L542.34,250.46 L544.21,250.43 L546.08,250.40 L547.95,250.38 L549.82,250.36 L551.69,250.34 L553.56,250.33 L555.43,250.33 L557.31,250.32 L559.18,250.33 L561.05,250.33 L562.92,250.34 L564.79,250.36 L566.66,250.38 L568.53,250.40 L570.40,250.43 L572.27,250.46 L574.14,250.49 L576.01,250.53 L577.89,250.57 L579.76,250.62 L581.63,250.66 L583.50,250.72 L585.37,250.77 L587.24,250.83 L589.11,250.89 L590.98,250.96 L592.85,251.03 L594.73,251.10 L596.60,251.17 L598.47,251.25 L600.34,251.32 L602.21,251.40 L604.08,251.49 L605.95,251.57 L607.82,251.66 L609.69,251.75 L611.56,251.83 L613.44,251.92 L615.31,252.02 L617.18,252.11 L619.05,252.20 L620.92,252.30 L622.79,252.39 L624.66,252.49 L626.53,252.58 L628.40,252.68 L630.27,252.77 L632.15,252.87 L634.02,252.96 L635.89,253.06 L637.76,253.15 L639.63,253.24 L641.50,253.34 L643.37,253.43 L645.24,253.52 L647.11,253.61 L648.98,253.70 L650.86,253.79 L652.73,253.87 L654.60,253.96 L656.47,254.04 L658.34,254.12 L660.21,254.20 L662.08,254.28 L663.95,254.36 L665.82,254.44 L667.69,254.51 L669.57,254.58 L671.44,254.65 L673.31,254.72 L675.18,254.79 L677.05,254.85 L678.92,254.92 L680.79,254.98 L682.66,255.04 L684.53,255.09 L686.40,255.15 L688.28,255.20 L690.15,255.26 L692.02,255.31 L693.89,255.36 L695.76,255.40 L697.63,255.45 L699.50,255.49 L701.37,255.53 L703.24,255.57 L705.11,255.61 L706.99,255.65 L708.86,255.68 L710.73,255.72 L712.60,255.75 L714.47,255.78 L716.34,255.81 L718.21,255.84 L720.08,255.87 L721.95,255.89 L723.82,255.92 L725.70,255.94 L727.57,255.96 L729.44,255.98 L731.31,256.00 L733.18,256.02 L735.05,256.04" stroke="#f27d7d" stroke-width="2.3" fill="none" stroke-dasharray="2.6 1.5"/>
<path d="M80.20,256.30 L82.07,256.30 L83.94,256.30 L85.81,256.30 L87.68,256.30 L89.56,256.30 L91.43,256.30 L93.30,256.30 L95.17,256.30 L97.04,256.30 L98.91,256.30 L100.78,256.30 L102.65,256.30 L104.52,256.30 L106.39,256.30 L108.27,256.30 L110.14,256.30 L112.01,256.30 L113.88,256.30 L115.75,256.30 L117.62,256.30 L119.49,256.30 L121.36,256.30 L123.23,256.30 L125.10,256.30 L126.97,256.30 L128.85,256.30 L130.72,256.30 L132.59,256.30 L134.46,256.30 L136.33,256.30 L138.20,256.30 L140.07,256.30 L141.94,256.30 L143.81,256.29 L145.69,256.29 L147.56,256.29 L149.43,256.29 L151.30,256.29 L153.17,256.29 L155.04,256.28 L156.91,256.28 L158.78,256.28 L160.65,256.27 L162.52,256.27 L164.39,256.26 L166.27,256.25 L168.14,256.24 L170.01,256.24 L171.88,256.22 L173.75,256.21 L175.62,256.20 L177.49,256.18 L179.36,256.16 L181.23,256.14 L183.11,256.11 L184.98,256.09 L186.85,256.06 L188.72,256.02 L190.59,255.98 L192.46,255.94 L194.33,255.90 L196.20,255.85 L198.07,255.79 L199.94,255.73 L201.81,255.66 L203.69,255.59 L205.56,255.51 L207.43,255.43 L209.30,255.34 L211.17,255.25 L213.04,255.15 L214.91,255.04 L216.78,254.93 L218.65,254.81 L220.52,254.69 L222.40,254.57 L224.27,254.44 L226.14,254.30 L228.01,254.16 L229.88,254.02 L231.75,253.88 L233.62,253.74 L235.49,253.60 L237.36,253.46 L239.24,253.32 L241.11,253.18 L242.98,253.05 L244.85,252.92 L246.72,252.80 L248.59,252.69 L250.46,252.58 L252.33,252.48 L254.20,252.39 L256.07,252.31 L257.94,252.24 L259.82,252.18 L261.69,252.14 L263.56,252.11 L265.43,252.09 L267.30,252.08 L269.17,252.09 L271.04,252.11 L272.91,252.14 L274.78,252.18 L276.66,252.24 L278.53,252.31 L280.40,252.39 L282.27,252.48 L284.14,252.58 L286.01,252.69 L287.88,252.80 L289.75,252.92 L291.62,253.05 L293.49,253.18 L295.37,253.32 L297.24,253.46 L299.11,253.60 L300.98,253.74 L302.85,253.88 L304.72,254.02 L306.59,254.16 L308.46,254.30 L310.33,254.44 L312.20,254.57 L314.07,254.69 L315.95,254.81 L317.82,254.93 L319.69,255.04 L321.56,255.15 L323.43,255.25 L325.30,255.34 L327.17,255.43 L329.04,255.51 L330.91,255.59 L332.79,255.66 L334.66,255.73 L336.53,255.79 L338.40,255.85 L340.27,255.90 L342.14,255.94 L344.01,255.98 L345.88,256.02 L347.75,256.06 L349.62,256.09 L351.50,256.11 L353.37,256.14 L355.24,256.16 L357.11,256.18 L358.98,256.20 L360.85,256.21 L362.72,256.22 L364.59,256.24 L366.46,256.24 L368.33,256.25 L370.20,256.26 L372.08,256.27 L373.95,256.27 L375.82,256.28 L377.69,256.28 L379.56,256.28 L381.43,256.29 L383.30,256.29 L385.17,256.29 L387.04,256.29 L388.91,256.29 L390.79,256.29 L392.66,256.30 L394.53,256.30 L396.40,256.30 L398.27,256.30 L400.14,256.30 L402.01,256.30 L403.88,256.30 L405.75,256.30 L407.62,256.30 L409.50,256.30 L411.37,256.30 L413.24,256.30 L415.11,256.30 L416.98,256.30 L418.85,256.30 L420.72,256.30 L422.59,256.30 L424.46,256.30 L426.33,256.30 L428.21,256.30 L430.08,256.30 L431.95,256.30 L433.82,256.30 L435.69,256.30 L437.56,256.30 L439.43,256.30 L441.30,256.30 L443.17,256.30 L445.05,256.30 L446.92,256.30 L448.79,256.30 L450.66,256.30 L452.53,256.30 L454.40,256.30 L456.27,256.30 L458.14,256.30 L460.01,256.30 L461.88,256.30 L463.75,256.30 L465.63,256.30 L467.50,256.30 L469.37,256.30 L471.24,256.30 L473.11,256.30 L474.98,256.30 L476.85,256.30 L478.72,256.30 L480.59,256.30 L482.46,256.30 L484.34,256.30 L486.21,256.30 L488.08,256.30 L489.95,256.30 L491.82,256.30 L493.69,256.30 L495.56,256.30 L497.43,256.30 L499.30,256.30 L501.18,256.30 L503.05,256.30 L504.92,256.30 L506.79,256.30 L508.66,256.30 L510.53,256.30 L512.40,256.30 L514.27,256.30 L516.14,256.30 L518.01,256.30 L519.88,256.30 L521.76,256.30 L523.63,256.30 L525.50,256.30 L527.37,256.30 L529.24,256.30 L531.11,256.30 L532.98,256.30 L534.85,256.30 L536.72,256.30 L538.60,256.30 L540.47,256.30 L542.34,256.30 L544.21,256.30 L546.08,256.30 L547.95,256.30 L549.82,256.30 L551.69,256.30 L553.56,256.30 L555.43,256.30 L557.31,256.30 L559.18,256.30 L561.05,256.30 L562.92,256.30 L564.79,256.30 L566.66,256.30 L568.53,256.30 L570.40,256.30 L572.27,256.30 L574.14,256.30 L576.01,256.30 L577.89,256.30 L579.76,256.30 L581.63,256.30 L583.50,256.30 L585.37,256.30 L587.24,256.30 L589.11,256.30 L590.98,256.30 L592.85,256.30 L594.73,256.30 L596.60,256.30 L598.47,256.30 L600.34,256.30 L602.21,256.30 L604.08,256.30 L605.95,256.30 L607.82,256.30 L609.69,256.30 L611.56,256.30 L613.44,256.30 L615.31,256.30 L617.18,256.30 L619.05,256.30 L620.92,256.30 L622.79,256.30 L624.66,256.30 L626.53,256.30 L628.40,256.30 L630.27,256.30 L632.15,256.30 L634.02,256.30 L635.89,256.30 L637.76,256.30 L639.63,256.30 L641.50,256.30 L643.37,256.30 L645.24,256.30 L647.11,256.30 L648.98,256.30 L650.86,256.30 L652.73,256.30 L654.60,256.30 L656.47,256.30 L658.34,256.30 L660.21,256.30 L662.08,256.30 L663.95,256.30 L665.82,256.30 L667.69,256.30 L669.57,256.30 L671.44,256.30 L673.31,256.30 L675.18,256.30 L677.05,256.30 L678.92,256.30 L680.79,256.30 L682.66,256.30 L684.53,256.30 L686.40,256.30 L688.28,256.30 L690.15,256.30 L692.02,256.30 L693.89,256.30 L695.76,256.30 L697.63,256.30 L699.50,256.30 L701.37,256.30 L703.24,256.30 L705.11,256.30 L706.99,256.30 L708.86,256.30 L710.73,256.30 L712.60,256.30 L714.47,256.30 L716.34,256.30 L718.21,256.30 L720.08,256.30 L721.95,256.30 L723.82,256.30 L725.70,256.30 L727.57,256.30 L729.44,256.30 L731.31,256.30 L733.18,256.30 L735.05,256.30" stroke="#f27d7d" stroke-width="2.3" fill="none" stroke-dasharray="2.6 1.5"/>
<path d="M80.20,256.30 L82.07,256.30 L83.94,256.30 L85.81,256.30 L87.68,256.30 L89.56,256.30 L91.43,256.30 L93.30,256.30 L95.17,256.30 L97.04,256.30 L98.91,256.30 L100.78,256.30 L102.65,256.30 L104.52,256.30 L106.39,256.30 L108.27,256.30 L110.14,256.30 L112.01,256.30 L113.88,256.30 L115.75,256.30 L117.62,256.30 L119.49,256.30 L121.36,256.30 L123.23,256.30 L125.10,256.30 L126.97,256.30 L128.85,256.30 L130.72,256.30 L132.59,256.30 L134.46,256.30 L136.33,256.30 L138.20,256.30 L140.07,256.30 L141.94,256.30 L143.81,256.30 L145.69,256.30 L147.56,256.30 L149.43,256.30 L151.30,256.30 L153.17,256.30 L155.04,256.30 L156.91,256.30 L158.78,256.30 L160.65,256.30 L162.52,256.30 L164.39,256.30 L166.27,256.30 L168.14,256.30 L170.01,256.30 L171.88,256.30 L173.75,256.30 L175.62,256.30 L177.49,256.30 L179.36,256.30 L181.23,256.30 L183.11,256.30 L184.98,256.30 L186.85,256.30 L188.72,256.30 L190.59,256.30 L192.46,256.30 L194.33,256.30 L196.20,256.30 L198.07,256.30 L199.94,256.30 L201.81,256.30 L203.69,256.30 L205.56,256.30 L207.43,256.29 L209.30,256.29 L211.17,256.29 L213.04,256.29 L214.91,256.29 L216.78,256.29 L218.65,256.29 L220.52,256.29 L222.40,256.29 L224.27,256.29 L226.14,256.29 L228.01,256.29 L229.88,256.29 L231.75,256.29 L233.62,256.28 L235.49,256.28 L237.36,256.28 L239.24,256.28 L241.11,256.28 L242.98,256.28 L244.85,256.28 L246.72,256.27 L248.59,256.27 L250.46,256.27 L252.33,256.27 L254.20,256.27 L256.07,256.26 L257.94,256.26 L259.82,256.26 L261.69,256.26 L263.56,256.25 L265.43,256.25 L267.30,256.25 L269.17,256.24 L271.04,256.24 L272.91,256.23 L274.78,256.23 L276.66,256.23 L278.53,256.22 L280.40,256.22 L282.27,256.21 L284.14,256.21 L286.01,256.20 L287.88,256.19 L289.75,256.19 L291.62,256.18 L293.49,256.17 L295.37,256.17 L297.24,256.16 L299.11,256.15 L300.98,256.14 L302.85,256.13 L304.72,256.12 L306.59,256.11 L308.46,256.10 L310.33,256.09 L312.20,256.08 L314.07,256.07 L315.95,256.06 L317.82,256.04 L319.69,256.03 L321.56,256.02 L323.43,256.00 L325.30,255.99 L327.17,255.97 L329.04,255.96 L330.91,255.94 L332.79,255.92 L334.66,255.90 L336.53,255.88 L338.40,255.87 L340.27,255.85 L342.14,255.82 L344.01,255.80 L345.88,255.78 L347.75,255.76 L349.62,255.73 L351.50,255.71 L353.37,255.68 L355.24,255.66 L357.11,255.63 L358.98,255.60 L360.85,255.58 L362.72,255.55 L364.59,255.52 L366.46,255.49 L368.33,255.46 L370.20,255.42 L372.08,255.39 L373.95,255.36 L375.82,255.32 L377.69,255.29 L379.56,255.25 L381.43,255.22 L383.30,255.18 L385.17,255.14 L387.04,255.10 L388.91,255.06 L390.79,255.02 L392.66,254.98 L394.53,254.94 L396.40,254.90 L398.27,254.85 L400.14,254.81 L402.01,254.77 L403.88,254.72 L405.75,254.68 L407.62,254.63 L409.50,254.59 L411.37,254.54 L413.24,254.50 L415.11,254.45 L416.98,254.40 L418.85,254.36 L420.72,254.31 L422.59,254.26 L424.46,254.22 L426.33,254.17 L428.21,254.12 L430.08,254.07 L431.95,254.03 L433.82,253.98 L435.69,253.93 L437.56,253.89 L439.43,253.84 L441.30,253.79 L443.17,253.75 L445.05,253.70 L446.92,253.66 L448.79,253.61 L450.66,253.57 L452.53,253.53 L454.40,253.49 L456.27,253.44 L458.14,253.40 L460.01,253.36 L461.88,253.33 L463.75,253.29 L465.63,253.25 L467.50,253.22 L469.37,253.18 L471.24,253.15 L473.11,253.12 L474.98,253.08 L476.85,253.06 L478.72,253.03 L480.59,253.00 L482.46,252.97 L484.34,252.95 L486.21,252.93 L488.08,252.91 L489.95,252.89 L491.82,252.87 L493.69,252.85 L495.56,252.84 L497.43,252.83 L499.30,252.82 L501.18,252.81 L503.05,252.80 L504.92,252.79 L506.79,252.79 L508.66,252.79 L510.53,252.79 L512.40,252.79 L514.27,252.79 L516.14,252.79 L518.01,252.80 L519.88,252.81 L521.76,252.82 L523.63,252.83 L525.50,252.84 L527.37,252.85 L529.24,252.87 L531.11,252.89 L532.98,252.91 L534.85,252.93 L536.72,252.95 L538.60,252.97 L540.47,253.00 L542.34,253.03 L544.21,253.06 L546.08,253.08 L547.95,253.12 L549.82,253.15 L551.69,253.18 L553.56,253.22 L555.43,253.25 L557.31,253.29 L559.18,253.33 L561.05,253.36 L562.92,253.40 L564.79,253.44 L566.66,253.49 L568.53,253.53 L570.40,253.57 L572.27,253.61 L574.14,253.66 L576.01,253.70 L577.89,253.75 L579.76,253.79 L581.63,253.84 L583.50,253.89 L585.37,253.93 L587.24,253.98 L589.11,254.03 L590.98,254.07 L592.85,254.12 L594.73,254.17 L596.60,254.22 L598.47,254.26 L600.34,254.31 L602.21,254.36 L604.08,254.40 L605.95,254.45 L607.82,254.50 L609.69,254.54 L611.56,254.59 L613.44,254.63 L615.31,254.68 L617.18,254.72 L619.05,254.77 L620.92,254.81 L622.79,254.85 L624.66,254.90 L626.53,254.94 L628.40,254.98 L630.27,255.02 L632.15,255.06 L634.02,255.10 L635.89,255.14 L637.76,255.18 L639.63,255.22 L641.50,255.25 L643.37,255.29 L645.24,255.32 L647.11,255.36 L648.98,255.39 L650.86,255.42 L652.73,255.46 L654.60,255.49 L656.47,255.52 L658.34,255.55 L660.21,255.58 L662.08,255.60 L663.95,255.63 L665.82,255.66 L667.69,255.68 L669.57,255.71 L671.44,255.73 L673.31,255.76 L675.18,255.78 L677.05,255.80 L678.92,255.82 L680.79,255.85 L682.66,255.87 L684.53,255.88 L686.40,255.90 L688.28,255.92 L690.15,255.94 L692.02,255.96 L693.89,255.97 L695.76,255.99 L697.63,256.00 L699.50,256.02 L701.37,256.03 L703.24,256.04 L705.11,256.06 L706.99,256.07 L708.86,256.08 L710.73,256.09 L712.60,256.10 L714.47,256.11 L716.34,256.12 L718.21,256.13 L720.08,256.14 L721.95,256.15 L723.82,256.16 L725.70,256.17 L727.57,256.17 L729.44,256.18 L731.31,256.19 L733.18,256.19 L735.05,256.20" stroke="#f27d7d" stroke-width="2.3" fill="none" stroke-dasharray="2.6 1.5"/>
<path d="M80.20,256.30 L82.07,256.30 L83.94,256.30 L85.81,256.30 L87.68,256.30 L89.56,256.30 L91.43,256.30 L93.30,256.30 L95.17,256.30 L97.04,256.30 L98.91,256.30 L100.78,256.30 L102.65,256.30 L104.52,256.30 L106.39,256.30 L108.27,256.30 L110.14,256.30 L112.01,256.30 L113.88,256.30 L115.75,256.30 L117.62,256.30 L119.49,256.30 L121.36,256.30 L123.23,256.30 L125.10,256.30 L126.97,256.30 L128.85,256.30 L130.72,256.30 L132.59,256.30 L134.46,256.30 L136.33,256.30 L138.20,256.30 L140.07,256.30 L141.94,256.30 L143.81,256.30 L145.69,256.30 L147.56,256.30 L149.43,256.30 L151.30,256.30 L153.17,256.30 L155.04,256.30 L156.91,256.30 L158.78,256.30 L160.65,256.30 L162.52,256.30 L164.39,256.30 L166.27,256.30 L168.14,256.30 L170.01,256.30 L171.88,256.30 L173.75,256.30 L175.62,256.30 L177.49,256.30 L179.36,256.30 L181.23,256.30 L183.11,256.30 L184.98,256.30 L186.85,256.30 L188.72,256.30 L190.59,256.30 L192.46,256.30 L194.33,256.30 L196.20,256.30 L198.07,256.30 L199.94,256.30 L201.81,256.30 L203.69,256.30 L205.56,256.30 L207.43,256.30 L209.30,256.30 L211.17,256.30 L213.04,256.30 L214.91,256.30 L216.78,256.30 L218.65,256.30 L220.52,256.30 L222.40,256.30 L224.27,256.30 L226.14,256.30 L228.01,256.30 L229.88,256.30 L231.75,256.30 L233.62,256.30 L235.49,256.30 L237.36,256.30 L239.24,256.30 L241.11,256.30 L242.98,256.30 L244.85,256.30 L246.72,256.30 L248.59,256.30 L250.46,256.30 L252.33,256.30 L254.20,256.30 L256.07,256.30 L257.94,256.30 L259.82,256.30 L261.69,256.30 L263.56,256.30 L265.43,256.30 L267.30,256.30 L269.17,256.30 L271.04,256.30 L272.91,256.30 L274.78,256.30 L276.66,256.30 L278.53,256.30 L280.40,256.30 L282.27,256.30 L284.14,256.30 L286.01,256.30 L287.88,256.30 L289.75,256.30 L291.62,256.30 L293.49,256.30 L295.37,256.30 L297.24,256.30 L299.11,256.30 L300.98,256.30 L302.85,256.30 L304.72,256.30 L306.59,256.30 L308.46,256.30 L310.33,256.30 L312.20,256.30 L314.07,256.30 L315.95,256.30 L317.82,256.30 L319.69,256.30 L321.56,256.30 L323.43,256.30 L325.30,256.30 L327.17,256.30 L329.04,256.30 L330.91,256.30 L332.79,256.30 L334.66,256.30 L336.53,256.30 L338.40,256.30 L340.27,256.30 L342.14,256.30 L344.01,256.30 L345.88,256.30 L347.75,256.30 L349.62,256.30 L351.50,256.30 L353.37,256.30 L355.24,256.30 L357.11,256.30 L358.98,256.30 L360.85,256.30 L362.72,256.30 L364.59,256.30 L366.46,256.30 L368.33,256.30 L370.20,256.30 L372.08,256.30 L373.95,256.30 L375.82,256.30 L377.69,256.30 L379.56,256.30 L381.43,256.30 L383.30,256.30 L385.17,256.30 L387.04,256.30 L388.91,256.30 L390.79,256.30 L392.66,256.30 L394.53,256.30 L396.40,256.30 L398.27,256.30 L400.14,256.30 L402.01,256.30 L403.88,256.30 L405.75,256.30 L407.62,256.29 L409.50,256.29 L411.37,256.29 L413.24,256.29 L415.11,256.29 L416.98,256.29 L418.85,256.29 L420.72,256.29 L422.59,256.29 L424.46,256.29 L426.33,256.28 L428.21,256.28 L430.08,256.28 L431.95,256.28 L433.82,256.28 L435.69,256.27 L437.56,256.27 L439.43,256.27 L441.30,256.26 L443.17,256.26 L445.05,256.26 L446.92,256.25 L448.79,256.25 L450.66,256.24 L452.53,256.24 L454.40,256.23 L456.27,256.22 L458.14,256.22 L460.01,256.21 L461.88,256.20 L463.75,256.19 L465.63,256.18 L467.50,256.17 L469.37,256.16 L471.24,256.15 L473.11,256.14 L474.98,256.13 L476.85,256.11 L478.72,256.10 L480.59,256.08 L482.46,256.06 L484.34,256.05 L486.21,256.03 L488.08,256.01 L489.95,255.99 L491.82,255.97 L493.69,255.94 L495.56,255.92 L497.43,255.90 L499.30,255.87 L501.18,255.84 L503.05,255.81 L504.92,255.78 L506.79,255.75 L508.66,255.72 L510.53,255.69 L512.40,255.65 L514.27,255.62 L516.14,255.58 L518.01,255.54 L519.88,255.50 L521.76,255.46 L523.63,255.42 L525.50,255.38 L527.37,255.33 L529.24,255.29 L531.11,255.24 L532.98,255.20 L534.85,255.15 L536.72,255.10 L538.60,255.05 L540.47,255.01 L542.34,254.96 L544.21,254.91 L546.08,254.86 L547.95,254.81 L549.82,254.76 L551.69,254.71 L553.56,254.66 L555.43,254.61 L557.31,254.56 L559.18,254.51 L561.05,254.47 L562.92,254.42 L564.79,254.37 L566.66,254.33 L568.53,254.29 L570.40,254.24 L572.27,254.20 L574.14,254.17 L576.01,254.13 L577.89,254.09 L579.76,254.06 L581.63,254.03 L583.50,254.00 L585.37,253.97 L587.24,253.95 L589.11,253.93 L590.98,253.91 L592.85,253.89 L594.73,253.87 L596.60,253.86 L598.47,253.85 L600.34,253.84 L602.21,253.84 L604.08,253.84 L605.95,253.84 L607.82,253.84 L609.69,253.85 L611.56,253.86 L613.44,253.87 L615.31,253.89 L617.18,253.91 L619.05,253.93 L620.92,253.95 L622.79,253.97 L624.66,254.00 L626.53,254.03 L628.40,254.06 L630.27,254.09 L632.15,254.13 L634.02,254.17 L635.89,254.20 L637.76,254.24 L639.63,254.29 L641.50,254.33 L643.37,254.37 L645.24,254.42 L647.11,254.47 L648.98,254.51 L650.86,254.56 L652.73,254.61 L654.60,254.66 L656.47,254.71 L658.34,254.76 L660.21,254.81 L662.08,254.86 L663.95,254.91 L665.82,254.96 L667.69,255.01 L669.57,255.05 L671.44,255.10 L673.31,255.15 L675.18,255.20 L677.05,255.24 L678.92,255.29 L680.79,255.33 L682.66,255.38 L684.53,255.42 L686.40,255.46 L688.28,255.50 L690.15,255.54 L692.02,255.58 L693.89,255.62 L695.76,255.65 L697.63,255.69 L699.50,255.72 L701.37,255.75 L703.24,255.78 L705.11,255.81 L706.99,255.84 L708.86,255.87 L710.73,255.90 L712.60,255.92 L714.47,255.94 L716.34,255.97 L718.21,255.99 L720.08,256.01 L721.95,256.03 L723.82,256.05 L725.70,256.06 L727.57,256.08 L729.44,256.10 L731.31,256.11 L733.18,256.13 L735.05,256.14" stroke="#f27d7d" stroke-width="2.3" fill="none" stroke-dasharray="2.6 1.5"/>
<path d="M80.30,42.55 L81.61,38.65 L82.93,35.57 L84.24,33.13 L85.56,31.20 L86.87,29.60 L88.18,28.19 L89.50,26.83 L90.81,25.45 L92.13,24.10 L93.44,22.80 L94.75,21.58 L96.07,20.49 L97.38,19.54 L98.70,18.77 L100.01,18.21 L101.32,17.87 L102.64,17.73 L103.95,17.78 L105.27,18.00 L106.58,18.39 L107.89,18.91 L109.21,19.57 L110.52,20.34 L111.84,21.21 L113.15,22.17 L114.46,23.20 L115.78,24.28 L117.09,25.40 L118.41,26.55 L119.72,27.72 L121.03,28.87 L122.35,30.02 L123.66,31.14 L124.98,32.22 L126.29,33.27 L127.61,34.27 L128.92,35.21 L130.23,36.09 L131.55,36.90 L132.86,37.62 L134.18,38.26 L135.49,38.80 L136.80,39.24 L138.12,39.57 L139.43,39.78 L140.75,39.86 L142.06,39.80 L143.37,39.61 L144.69,39.27 L146.00,38.82 L147.32,38.24 L148.63,37.56 L149.94,36.77 L151.26,35.89 L152.57,34.92 L153.89,33.88 L155.20,32.77 L156.51,31.60 L157.83,30.37 L159.14,29.11 L160.46,27.80 L161.77,26.47 L163.08,25.12 L164.40,23.77 L165.71,22.41 L167.03,21.07 L168.34,19.74 L169.65,18.45 L170.97,17.19 L172.28,15.99 L173.60,14.84 L174.91,13.76 L176.22,12.76 L177.54,11.85 L178.85,11.04 L180.17,10.33 L181.48,9.74 L182.79,9.28 L184.11,8.94 L185.42,8.71 L186.74,8.58 L188.05,8.56 L189.36,8.61 L190.68,8.74 L191.99,8.93 L193.31,9.17 L194.62,9.46 L195.93,9.78 L197.25,10.12 L198.56,10.48 L199.88,10.84 L201.19,11.19 L202.50,11.52 L203.82,11.83 L205.13,12.13 L206.45,12.46 L207.76,12.90 L209.07,13.48 L210.39,14.26 L211.70,15.30 L213.02,16.65 L214.33,18.36 L215.64,20.48 L216.96,23.08 L218.27,26.20 L219.59,29.87 L220.90,33.86 L222.22,37.88 L223.53,42.21 L224.84,47.93 L226.16,55.31 L227.47,61.27 L228.79,68.31 L230.10,83.28 L231.41,102.71 L232.73,112.32 L234.04,116.75 L235.36,122.19 L236.67,128.78 L237.98,134.64 L239.30,139.72 L240.61,144.88 L241.93,150.14 L243.24,155.26 L244.55,160.08 L245.87,166.01 L247.18,174.50 L248.50,183.52 L249.81,190.66 L251.12,195.66 L252.44,199.10 L253.75,201.57 L255.07,203.67 L256.38,205.89 L257.69,208.29 L259.01,210.82 L260.32,213.40 L261.64,215.99 L262.95,218.52 L264.26,220.94 L265.58,223.20 L266.89,225.29 L268.21,227.22 L269.52,229.00 L270.83,230.65 L272.15,232.18 L273.46,233.59 L274.78,234.89 L276.09,236.10 L277.40,237.23 L278.72,238.29 L280.03,239.28 L281.35,240.21 L282.66,241.09 L283.97,241.91 L285.29,242.68 L286.60,243.40 L287.92,244.07 L289.23,244.68 L290.54,245.26 L291.86,245.78 L293.17,246.26 L294.49,246.70 L295.80,247.10 L297.11,247.46 L298.43,247.78 L299.74,248.07 L301.06,248.32 L302.37,248.54 L303.68,248.72 L305.00,248.88 L306.31,249.01 L307.63,249.11 L308.94,249.19 L310.25,249.25 L311.57,249.28 L312.88,249.29 L314.20,249.28 L315.51,249.26 L316.83,249.22 L318.14,249.17 L319.45,249.10 L320.77,249.03 L322.08,248.94 L323.40,248.85 L324.71,248.75 L326.02,248.65 L327.34,248.54 L328.65,248.43 L329.97,248.33 L331.28,248.22 L332.59,248.12 L333.91,248.02 L335.22,247.93 L336.54,247.84 L337.85,247.76 L339.16,247.69 L340.48,247.62 L341.79,247.55 L343.11,247.49 L344.42,247.43 L345.73,247.38 L347.05,247.33 L348.36,247.29 L349.68,247.25 L350.99,247.22 L352.30,247.19 L353.62,247.16 L354.93,247.14 L356.25,247.12 L357.56,247.10 L358.87,247.09 L360.19,247.08 L361.50,247.08 L362.82,247.08 L364.13,247.08 L365.44,247.08 L366.76,247.09 L368.07,247.10 L369.39,247.11 L370.70,247.13 L372.01,247.14 L373.33,247.17 L374.64,247.19 L375.96,247.21 L377.27,247.24 L378.58,247.27 L379.90,247.30 L381.21,247.33 L382.53,247.37 L383.84,247.40 L385.15,247.44 L386.47,247.48 L387.78,247.52 L389.10,247.56 L390.41,247.60 L391.72,247.64 L393.04,247.68 L394.35,247.73 L395.67,247.77 L396.98,247.82 L398.29,247.86 L399.61,247.91 L400.92,247.96 L402.24,248.00 L403.55,248.05 L404.86,248.09 L406.18,248.14 L407.49,248.19 L408.81,248.23 L410.12,248.28 L411.44,248.32 L412.75,248.36 L414.06,248.40 L415.38,248.45 L416.69,248.49 L418.01,248.53 L419.32,248.56 L420.63,248.60 L421.95,248.63 L423.26,248.67 L424.58,248.70 L425.89,248.73 L427.20,248.76 L428.52,248.79 L429.83,248.82 L431.15,248.85 L432.46,248.87 L433.77,248.90 L435.09,248.92 L436.40,248.95 L437.72,248.97 L439.03,248.99 L440.34,249.01 L441.66,249.03 L442.97,249.05 L444.29,249.06 L445.60,249.08 L446.91,249.10 L448.23,249.11 L449.54,249.13 L450.86,249.14 L452.17,249.15 L453.48,249.16 L454.80,249.18 L456.11,249.19 L457.43,249.20 L458.74,249.20 L460.05,249.21 L461.37,249.22 L462.68,249.23 L464.00,249.24 L465.31,249.24 L466.62,249.25 L467.94,249.25 L469.25,249.26 L470.57,249.26 L471.88,249.27 L473.19,249.27 L474.51,249.27 L475.82,249.28 L477.14,249.28 L478.45,249.28 L479.76,249.28 L481.08,249.29 L482.39,249.29 L483.71,249.29 L485.02,249.29 L486.33,249.29 L487.65,249.29 L488.96,249.29 L490.28,249.29 L491.59,249.29 L492.90,249.29 L494.22,249.29 L495.53,249.29 L496.85,249.29 L498.16,249.29 L499.47,249.29 L500.79,249.29 L502.10,249.29 L503.42,249.30 L504.73,249.30 L506.05,249.30 L507.36,249.30 L508.67,249.30 L509.99,249.30 L511.30,249.30 L512.62,249.30 L513.93,249.31 L515.24,249.31 L516.56,249.31 L517.87,249.31 L519.19,249.32 L520.50,249.32 L521.81,249.32 L523.13,249.33 L524.44,249.33 L525.76,249.34 L527.07,249.35 L528.38,249.35 L529.70,249.36 L531.01,249.37 L532.33,249.37 L533.64,249.38 L534.95,249.39 L536.27,249.40 L537.58,249.41 L538.90,249.42 L540.21,249.44 L541.52,249.45 L542.84,249.46 L544.15,249.48 L545.47,249.49 L546.78,249.51 L548.09,249.53 L549.41,249.54 L550.72,249.56 L552.04,249.58 L553.35,249.60 L554.66,249.62 L555.98,249.64 L557.29,249.67 L558.61,249.69 L559.92,249.71 L561.23,249.74 L562.55,249.77 L563.86,249.79 L565.18,249.82 L566.49,249.85 L567.80,249.88 L569.12,249.91 L570.43,249.94 L571.75,249.97 L573.06,250.00 L574.37,250.04 L575.69,250.07 L577.00,250.11 L578.32,250.14 L579.63,250.18 L580.94,250.22 L582.26,250.25 L583.57,250.29 L584.89,250.33 L586.20,250.37 L587.51,250.42 L588.83,250.46 L590.14,250.50 L591.46,250.54 L592.77,250.59 L594.08,250.63 L595.40,250.68 L596.71,250.73 L598.03,250.78 L599.34,250.82 L600.66,250.87 L601.97,250.92 L603.28,250.97 L604.60,251.03 L605.91,251.08 L607.23,251.13 L608.54,251.19 L609.85,251.24 L611.17,251.30 L612.48,251.35 L613.80,251.41 L615.11,251.47 L616.42,251.53 L617.74,251.58 L619.05,251.64 L620.37,251.70 L621.68,251.77 L622.99,251.83 L624.31,251.89 L625.62,251.96 L626.94,252.02 L628.25,252.08 L629.56,252.15 L630.88,252.22 L632.19,252.28 L633.51,252.35 L634.82,252.42 L636.13,252.49 L637.45,252.56 L638.76,252.63 L640.08,252.70 L641.39,252.78 L642.70,252.85 L644.02,252.92 L645.33,253.00 L646.65,253.07 L647.96,253.15 L649.27,253.22 L650.59,253.30 L651.90,253.38 L653.22,253.46 L654.53,253.54 L655.84,253.62 L657.16,253.70 L658.47,253.78 L659.79,253.86 L661.10,253.94 L662.41,254.03 L663.73,254.11 L665.04,254.19 L666.36,254.28 L667.67,254.36 L668.98,254.44 L670.30,254.53 L671.61,254.61 L672.93,254.69 L674.24,254.77 L675.55,254.85 L676.87,254.93 L678.18,255.01 L679.50,255.09 L680.81,255.17 L682.12,255.25 L683.44,255.33 L684.75,255.40 L686.07,255.47 L687.38,255.55 L688.69,255.62 L690.01,255.69 L691.32,255.76 L692.64,255.82 L693.95,255.89 L695.27,255.95 L696.58,256.01 L697.89,256.07 L699.21,256.13 L700.52,256.18 L701.84,256.23 L703.15,256.28 L704.46,256.33 L705.78,256.38 L707.09,256.42 L708.41,256.46 L709.72,256.50 L711.03,256.53 L712.35,256.56 L713.66,256.59 L714.98,256.61 L716.29,256.64 L717.60,256.65 L718.92,256.67 L720.23,256.68 L721.55,256.69 L722.86,256.69 L724.17,256.69 L725.49,256.69 L726.80,256.68 L728.12,256.67 L729.43,256.65 L730.74,256.64 L732.06,256.61 L733.37,256.58 L734.69,256.55 L736.00,256.51" stroke="#1020ff" stroke-width="2.2" fill="none" stroke-dasharray="1.6 1.2"/>
<path d="M80.30,48.86 L81.61,44.15 L82.93,40.03 L84.24,36.46 L85.56,33.38 L86.87,30.74 L88.18,28.47 L89.50,26.54 L90.81,24.88 L92.13,23.44 L93.44,22.16 L94.75,20.99 L96.07,19.92 L97.38,18.97 L98.70,18.14 L100.01,17.47 L101.32,16.97 L102.64,16.65 L103.95,16.54 L105.27,16.64 L106.58,16.93 L107.89,17.40 L109.21,18.02 L110.52,18.79 L111.84,19.69 L113.15,20.69 L114.46,21.77 L115.78,22.93 L117.09,24.15 L118.41,25.39 L119.72,26.66 L121.03,27.92 L122.35,29.17 L123.66,30.38 L124.98,31.53 L126.29,32.62 L127.61,33.62 L128.92,34.53 L130.23,35.36 L131.55,36.09 L132.86,36.73 L134.18,37.27 L135.49,37.72 L136.80,38.06 L138.12,38.31 L139.43,38.45 L140.75,38.48 L142.06,38.41 L143.37,38.22 L144.69,37.93 L146.00,37.52 L147.32,36.99 L148.63,36.35 L149.94,35.60 L151.26,34.75 L152.57,33.80 L153.89,32.78 L155.20,31.69 L156.51,30.53 L157.83,29.31 L159.14,28.06 L160.46,26.77 L161.77,25.45 L163.08,24.11 L164.40,22.76 L165.71,21.42 L167.03,20.09 L168.34,18.78 L169.65,17.50 L170.97,16.27 L172.28,15.10 L173.60,14.00 L174.91,12.98 L176.22,12.06 L177.54,11.25 L178.85,10.56 L180.17,10.01 L181.48,9.60 L182.79,9.34 L184.11,9.24 L185.42,9.26 L186.74,9.38 L188.05,9.57 L189.36,9.82 L190.68,10.09 L191.99,10.37 L193.31,10.62 L194.62,10.85 L195.93,11.05 L197.25,11.24 L198.56,11.43 L199.88,11.61 L201.19,11.81 L202.50,12.02 L203.82,12.26 L205.13,12.56 L206.45,12.96 L207.76,13.53 L209.07,14.31 L210.39,15.36 L211.70,16.74 L213.02,18.47 L214.33,20.58 L215.64,23.08 L216.96,25.99 L218.27,29.34 L219.59,33.20 L220.90,37.66 L222.22,42.82 L223.53,48.75 L224.84,55.53 L226.16,63.00 L227.47,70.99 L228.79,79.30 L230.10,87.75 L231.41,96.14 L232.73,104.29 L234.04,112.01 L235.36,119.11 L236.67,125.51 L237.98,131.35 L239.30,136.78 L240.61,141.95 L241.93,147.02 L243.24,152.12 L244.55,157.28 L245.87,162.46 L247.18,167.62 L248.50,172.71 L249.81,177.68 L251.12,182.48 L252.44,187.05 L253.75,191.35 L255.07,195.31 L256.38,198.90 L257.69,202.07 L259.01,204.88 L260.32,207.39 L261.64,209.66 L262.95,211.78 L264.26,213.79 L265.58,215.76 L266.89,217.67 L268.21,219.53 L269.52,221.34 L270.83,223.08 L272.15,224.77 L273.46,226.39 L274.78,227.95 L276.09,229.43 L277.40,230.85 L278.72,232.19 L280.03,233.46 L281.35,234.66 L282.66,235.80 L283.97,236.86 L285.29,237.87 L286.60,238.81 L287.92,239.69 L289.23,240.51 L290.54,241.27 L291.86,241.98 L293.17,242.64 L294.49,243.25 L295.80,243.81 L297.11,244.33 L298.43,244.80 L299.74,245.22 L301.06,245.61 L302.37,245.96 L303.68,246.27 L305.00,246.55 L306.31,246.79 L307.63,247.00 L308.94,247.19 L310.25,247.34 L311.57,247.48 L312.88,247.59 L314.20,247.67 L315.51,247.74 L316.83,247.80 L318.14,247.83 L319.45,247.86 L320.77,247.87 L322.08,247.87 L323.40,247.87 L324.71,247.85 L326.02,247.83 L327.34,247.80 L328.65,247.77 L329.97,247.73 L331.28,247.68 L332.59,247.63 L333.91,247.58 L335.22,247.52 L336.54,247.46 L337.85,247.40 L339.16,247.34 L340.48,247.28 L341.79,247.22 L343.11,247.16 L344.42,247.11 L345.73,247.06 L347.05,247.01 L348.36,246.96 L349.68,246.92 L350.99,246.89 L352.30,246.86 L353.62,246.83 L354.93,246.81 L356.25,246.79 L357.56,246.78 L358.87,246.77 L360.19,246.77 L361.50,246.77 L362.82,246.77 L364.13,246.77 L365.44,246.78 L366.76,246.79 L368.07,246.81 L369.39,246.83 L370.70,246.85 L372.01,246.87 L373.33,246.89 L374.64,246.92 L375.96,246.95 L377.27,246.98 L378.58,247.01 L379.90,247.05 L381.21,247.08 L382.53,247.12 L383.84,247.16 L385.15,247.20 L386.47,247.24 L387.78,247.28 L389.10,247.32 L390.41,247.36 L391.72,247.41 L393.04,247.45 L394.35,247.49 L395.67,247.54 L396.98,247.58 L398.29,247.62 L399.61,247.66 L400.92,247.70 L402.24,247.74 L403.55,247.78 L404.86,247.82 L406.18,247.86 L407.49,247.90 L408.81,247.94 L410.12,247.97 L411.44,248.01 L412.75,248.04 L414.06,248.08 L415.38,248.11 L416.69,248.14 L418.01,248.18 L419.32,248.21 L420.63,248.24 L421.95,248.27 L423.26,248.30 L424.58,248.33 L425.89,248.36 L427.20,248.39 L428.52,248.41 L429.83,248.44 L431.15,248.47 L432.46,248.49 L433.77,248.52 L435.09,248.54 L436.40,248.57 L437.72,248.59 L439.03,248.62 L440.34,248.64 L441.66,248.66 L442.97,248.68 L444.29,248.70 L445.60,248.73 L446.91,248.75 L448.23,248.77 L449.54,248.79 L450.86,248.80 L452.17,248.82 L453.48,248.84 L454.80,248.86 L456.11,248.88 L457.43,248.89 L458.74,248.91 L460.05,248.93 L461.37,248.94 L462.68,248.96 L464.00,248.97 L465.31,248.99 L466.62,249.00 L467.94,249.02 L469.25,249.03 L470.57,249.05 L471.88,249.06 L473.19,249.07 L474.51,249.08 L475.82,249.10 L477.14,249.11 L478.45,249.12 L479.76,249.13 L481.08,249.14 L482.39,249.15 L483.71,249.16 L485.02,249.17 L486.33,249.18 L487.65,249.19 L488.96,249.20 L490.28,249.21 L491.59,249.22 L492.90,249.23 L494.22,249.24 L495.53,249.25 L496.85,249.26 L498.16,249.26 L499.47,249.27 L500.79,249.28 L502.10,249.29 L503.42,249.29 L504.73,249.30 L506.05,249.31 L507.36,249.32 L508.67,249.32 L509.99,249.33 L511.30,249.34 L512.62,249.34 L513.93,249.35 L515.24,249.36 L516.56,249.36 L517.87,249.37 L519.19,249.37 L520.50,249.38 L521.81,249.39 L523.13,249.39 L524.44,249.40 L525.76,249.40 L527.07,249.41 L528.38,249.42 L529.70,249.42 L531.01,249.43 L532.33,249.44 L533.64,249.44 L534.95,249.45 L536.27,249.46 L537.58,249.46 L538.90,249.47 L540.21,249.48 L541.52,249.48 L542.84,249.49 L544.15,249.50 L545.47,249.51 L546.78,249.52 L548.09,249.53 L549.41,249.54 L550.72,249.55 L552.04,249.56 L553.35,249.57 L554.66,249.58 L555.98,249.59 L557.29,249.61 L558.61,249.62 L559.92,249.63 L561.23,249.65 L562.55,249.66 L563.86,249.68 L565.18,249.69 L566.49,249.71 L567.80,249.73 L569.12,249.75 L570.43,249.76 L571.75,249.78 L573.06,249.80 L574.37,249.83 L575.69,249.85 L577.00,249.87 L578.32,249.89 L579.63,249.92 L580.94,249.94 L582.26,249.97 L583.57,250.00 L584.89,250.02 L586.20,250.05 L587.51,250.08 L588.83,250.11 L590.14,250.15 L591.46,250.18 L592.77,250.21 L594.08,250.25 L595.40,250.29 L596.71,250.32 L598.03,250.36 L599.34,250.40 L600.66,250.44 L601.97,250.49 L603.28,250.53 L604.60,250.57 L605.91,250.62 L607.23,250.67 L608.54,250.72 L609.85,250.77 L611.17,250.82 L612.48,250.87 L613.80,250.93 L615.11,250.98 L616.42,251.04 L617.74,251.10 L619.05,251.16 L620.37,251.22 L621.68,251.28 L622.99,251.35 L624.31,251.41 L625.62,251.48 L626.94,251.55 L628.25,251.62 L629.56,251.70 L630.88,251.77 L632.19,251.85 L633.51,251.92 L634.82,252.00 L636.13,252.08 L637.45,252.17 L638.76,252.25 L640.08,252.34 L641.39,252.42 L642.70,252.51 L644.02,252.60 L645.33,252.69 L646.65,252.78 L647.96,252.87 L649.27,252.96 L650.59,253.05 L651.90,253.15 L653.22,253.24 L654.53,253.33 L655.84,253.43 L657.16,253.52 L658.47,253.61 L659.79,253.71 L661.10,253.80 L662.41,253.90 L663.73,253.99 L665.04,254.08 L666.36,254.18 L667.67,254.27 L668.98,254.36 L670.30,254.45 L671.61,254.54 L672.93,254.63 L674.24,254.72 L675.55,254.81 L676.87,254.89 L678.18,254.98 L679.50,255.06 L680.81,255.14 L682.12,255.22 L683.44,255.30 L684.75,255.38 L686.07,255.46 L687.38,255.53 L688.69,255.60 L690.01,255.67 L691.32,255.74 L692.64,255.81 L693.95,255.87 L695.27,255.93 L696.58,255.99 L697.89,256.05 L699.21,256.10 L700.52,256.15 L701.84,256.20 L703.15,256.24 L704.46,256.29 L705.78,256.33 L707.09,256.36 L708.41,256.40 L709.72,256.43 L711.03,256.45 L712.35,256.48 L713.66,256.50 L714.98,256.51 L716.29,256.52 L717.60,256.53 L718.92,256.54 L720.23,256.54 L721.55,256.54 L722.86,256.53 L724.17,256.52 L725.49,256.50 L726.80,256.48 L728.12,256.46 L729.43,256.43 L730.74,256.39 L732.06,256.35 L733.37,256.31 L734.69,256.26 L736.00,256.21" stroke="#000" stroke-width="1.9" fill="none"/>
</g>
<rect x="516.5" y="13.5" width="198" height="54" fill="#fff" stroke="#8a8a8a" stroke-width="1"/>
<line x1="525.4" y1="23.6" x2="558.2" y2="23.6" stroke="#2030ff" stroke-width="0.9"/>
<line x1="526.4" y1="23.6" x2="558.2" y2="23.6" stroke="#1020ff" stroke-width="2.2" stroke-linecap="round" stroke-dasharray="0 2.55"/>
<line x1="526.2" y1="41.2" x2="558.2" y2="41.2" stroke="#f27d7d" stroke-width="2.2" stroke-linecap="round" stroke-dasharray="1.5 2.55"/>
<line x1="525.8" y1="58.9" x2="559.4" y2="58.9" stroke="#000" stroke-width="2.1"/>
<text x="562.30" y="28.60" font-size="14.15" text-anchor="start" >1.4 wt. % riboflavin:DNA</text>
<text x="562.30" y="46.20" font-size="14.15" text-anchor="start" >Gaussian fits</text>
<text x="562.30" y="63.80" font-size="14.15" text-anchor="start" >Combined Gaussian fits</text>
<g class="it">
<rect x="321.0" y="77.5" width="175.0" height="111.30000000000001" fill="#fff" stroke="none"/>
<clipPath id="clipI1"><rect x="321.0" y="77.5" width="175.0" height="111.30000000000001"/></clipPath>
<line x1="321.00" y1="188.8" x2="321.00" y2="186.20" stroke="#222" stroke-width="1"/>
<line x1="321.00" y1="77.5" x2="321.00" y2="80.10" stroke="#222" stroke-width="1"/>
<text x="321.00" y="199.80" font-size="11.5" text-anchor="middle" >200</text>
<line x1="338.50" y1="188.8" x2="338.50" y2="187.20" stroke="#222" stroke-width="1"/>
<line x1="338.50" y1="77.5" x2="338.50" y2="79.10" stroke="#222" stroke-width="1"/>
<line x1="356.00" y1="188.8" x2="356.00" y2="186.20" stroke="#222" stroke-width="1"/>
<line x1="356.00" y1="77.5" x2="356.00" y2="80.10" stroke="#222" stroke-width="1"/>
<text x="356.00" y="199.80" font-size="11.5" text-anchor="middle" >220</text>
<line x1="373.50" y1="188.8" x2="373.50" y2="187.20" stroke="#222" stroke-width="1"/>
<line x1="373.50" y1="77.5" x2="373.50" y2="79.10" stroke="#222" stroke-width="1"/>
<line x1="391.00" y1="188.8" x2="391.00" y2="186.20" stroke="#222" stroke-width="1"/>
<line x1="391.00" y1="77.5" x2="391.00" y2="80.10" stroke="#222" stroke-width="1"/>
<text x="391.00" y="199.80" font-size="11.5" text-anchor="middle" >240</text>
<line x1="408.50" y1="188.8" x2="408.50" y2="187.20" stroke="#222" stroke-width="1"/>
<line x1="408.50" y1="77.5" x2="408.50" y2="79.10" stroke="#222" stroke-width="1"/>
<line x1="426.00" y1="188.8" x2="426.00" y2="186.20" stroke="#222" stroke-width="1"/>
<line x1="426.00" y1="77.5" x2="426.00" y2="80.10" stroke="#222" stroke-width="1"/>
<text x="426.00" y="199.80" font-size="11.5" text-anchor="middle" >260</text>
<line x1="443.50" y1="188.8" x2="443.50" y2="187.20" stroke="#222" stroke-width="1"/>
<line x1="443.50" y1="77.5" x2="443.50" y2="79.10" stroke="#222" stroke-width="1"/>
<line x1="461.00" y1="188.8" x2="461.00" y2="186.20" stroke="#222" stroke-width="1"/>
<line x1="461.00" y1="77.5" x2="461.00" y2="80.10" stroke="#222" stroke-width="1"/>
<text x="461.00" y="199.80" font-size="11.5" text-anchor="middle" >280</text>
<line x1="478.50" y1="188.8" x2="478.50" y2="187.20" stroke="#222" stroke-width="1"/>
<line x1="478.50" y1="77.5" x2="478.50" y2="79.10" stroke="#222" stroke-width="1"/>
<line x1="496.00" y1="188.8" x2="496.00" y2="186.20" stroke="#222" stroke-width="1"/>
<line x1="496.00" y1="77.5" x2="496.00" y2="80.10" stroke="#222" stroke-width="1"/>
<text x="496.00" y="199.80" font-size="11.5" text-anchor="middle" >300</text>
<line x1="321.0" y1="188.80" x2="323.60" y2="188.80" stroke="#222" stroke-width="1"/>
<line x1="496.0" y1="188.80" x2="493.40" y2="188.80" stroke="#222" stroke-width="1"/>
<line x1="321.0" y1="183.24" x2="322.60" y2="183.24" stroke="#222" stroke-width="1"/>
<line x1="496.0" y1="183.24" x2="494.40" y2="183.24" stroke="#222" stroke-width="1"/>
<line x1="321.0" y1="177.67" x2="323.60" y2="177.67" stroke="#222" stroke-width="1"/>
<line x1="496.0" y1="177.67" x2="493.40" y2="177.67" stroke="#222" stroke-width="1"/>
<text transform="translate(318.20,180.77) scale(0.92,1)" font-size="11.6" text-anchor="end">2.2</text>
<line x1="321.0" y1="172.11" x2="322.60" y2="172.11" stroke="#222" stroke-width="1"/>
<line x1="496.0" y1="172.11" x2="494.40" y2="172.11" stroke="#222" stroke-width="1"/>
<line x1="321.0" y1="166.54" x2="323.60" y2="166.54" stroke="#222" stroke-width="1"/>
<line x1="496.0" y1="166.54" x2="493.40" y2="166.54" stroke="#222" stroke-width="1"/>
<text transform="translate(318.20,169.64) scale(0.92,1)" font-size="11.6" text-anchor="end">2.4</text>
<line x1="321.0" y1="160.98" x2="322.60" y2="160.98" stroke="#222" stroke-width="1"/>
<line x1="496.0" y1="160.98" x2="494.40" y2="160.98" stroke="#222" stroke-width="1"/>
<line x1="321.0" y1="155.41" x2="323.60" y2="155.41" stroke="#222" stroke-width="1"/>
<line x1="496.0" y1="155.41" x2="493.40" y2="155.41" stroke="#222" stroke-width="1"/>
<text transform="translate(318.20,158.51) scale(0.92,1)" font-size="11.6" text-anchor="end">2.6</text>
<line x1="321.0" y1="149.84" x2="322.60" y2="149.84" stroke="#222" stroke-width="1"/>
<line x1="496.0" y1="149.84" x2="494.40" y2="149.84" stroke="#222" stroke-width="1"/>
<line x1="321.0" y1="144.28" x2="323.60" y2="144.28" stroke="#222" stroke-width="1"/>
<line x1="496.0" y1="144.28" x2="493.40" y2="144.28" stroke="#222" stroke-width="1"/>
<text transform="translate(318.20,147.38) scale(0.92,1)" font-size="11.6" text-anchor="end">2.8</text>
<line x1="321.0" y1="138.72" x2="322.60" y2="138.72" stroke="#222" stroke-width="1"/>
<line x1="496.0" y1="138.72" x2="494.40" y2="138.72" stroke="#222" stroke-width="1"/>
<line x1="321.0" y1="133.15" x2="323.60" y2="133.15" stroke="#222" stroke-width="1"/>
<line x1="496.0" y1="133.15" x2="493.40" y2="133.15" stroke="#222" stroke-width="1"/>
<text transform="translate(318.20,136.25) scale(0.92,1)" font-size="11.6" text-anchor="end">3.0</text>
<line x1="321.0" y1="127.59" x2="322.60" y2="127.59" stroke="#222" stroke-width="1"/>
<line x1="496.0" y1="127.59" x2="494.40" y2="127.59" stroke="#222" stroke-width="1"/>
<line x1="321.0" y1="122.02" x2="323.60" y2="122.02" stroke="#222" stroke-width="1"/>
<line x1="496.0" y1="122.02" x2="493.40" y2="122.02" stroke="#222" stroke-width="1"/>
<text transform="translate(318.20,125.12) scale(0.92,1)" font-size="11.6" text-anchor="end">3.2</text>
<line x1="321.0" y1="116.46" x2="322.60" y2="116.46" stroke="#222" stroke-width="1"/>
<line x1="496.0" y1="116.46" x2="494.40" y2="116.46" stroke="#222" stroke-width="1"/>
<line x1="321.0" y1="110.89" x2="323.60" y2="110.89" stroke="#222" stroke-width="1"/>
<line x1="496.0" y1="110.89" x2="493.40" y2="110.89" stroke="#222" stroke-width="1"/>
<text transform="translate(318.20,113.99) scale(0.92,1)" font-size="11.6" text-anchor="end">3.4</text>
<line x1="321.0" y1="105.33" x2="322.60" y2="105.33" stroke="#222" stroke-width="1"/>
<line x1="496.0" y1="105.33" x2="494.40" y2="105.33" stroke="#222" stroke-width="1"/>
<line x1="321.0" y1="99.76" x2="323.60" y2="99.76" stroke="#222" stroke-width="1"/>
<line x1="496.0" y1="99.76" x2="493.40" y2="99.76" stroke="#222" stroke-width="1"/>
<text transform="translate(318.20,102.86) scale(0.92,1)" font-size="11.6" text-anchor="end">3.6</text>
<line x1="321.0" y1="94.20" x2="322.60" y2="94.20" stroke="#222" stroke-width="1"/>
<line x1="496.0" y1="94.20" x2="494.40" y2="94.20" stroke="#222" stroke-width="1"/>
<line x1="321.0" y1="88.63" x2="323.60" y2="88.63" stroke="#222" stroke-width="1"/>
<line x1="496.0" y1="88.63" x2="493.40" y2="88.63" stroke="#222" stroke-width="1"/>
<text transform="translate(318.20,91.73) scale(0.92,1)" font-size="11.6" text-anchor="end">3.8</text>
<line x1="321.0" y1="83.06" x2="322.60" y2="83.06" stroke="#222" stroke-width="1"/>
<line x1="496.0" y1="83.06" x2="494.40" y2="83.06" stroke="#222" stroke-width="1"/>
<line x1="321.0" y1="77.50" x2="323.60" y2="77.50" stroke="#222" stroke-width="1"/>
<line x1="496.0" y1="77.50" x2="493.40" y2="77.50" stroke="#222" stroke-width="1"/>
<rect x="321.0" y="77.5" width="175.0" height="111.30000000000001" fill="none" stroke="#111" stroke-width="1.5"/>
<text x="399.50" y="219.90" font-size="13.3" text-anchor="middle" >Wavelength (nm)</text>
<text x="0" y="0" font-size="13.6" text-anchor="middle" transform="translate(289.8,129) rotate(-90)">Absorption (abs. units)</text>
<g clip-path="url(#clipI1)" fill="none" stroke-width="1.3">
<path d="M321.20,133.00 C321.42,131.92 321.70,129.00 322.50,126.50 C323.30,124.00 324.53,120.53 326.00,118.00 C327.47,115.47 329.30,113.08 331.30,111.30 C333.30,109.52 335.77,108.30 338.00,107.30 C340.23,106.30 342.48,105.63 344.70,105.30 C346.92,104.97 349.08,105.07 351.30,105.30 C353.52,105.53 355.77,106.25 358.00,106.70 C360.23,107.15 362.48,107.63 364.70,108.00 C366.92,108.37 369.08,108.78 371.30,108.90 C373.52,109.02 375.77,108.90 378.00,108.70 C380.23,108.50 382.48,108.15 384.70,107.70 C386.92,107.25 389.08,106.90 391.30,106.00 C393.52,105.10 395.77,103.23 398.00,102.30 C400.23,101.37 402.00,100.80 404.70,100.40 C407.40,100.00 410.25,99.70 414.20,99.90 C418.15,100.10 423.67,100.77 428.40,101.60 C433.13,102.43 439.07,103.52 442.60,104.90 C446.13,106.28 447.72,108.13 449.60,109.90 C451.48,111.67 452.72,113.15 453.90,115.50 C455.08,117.85 455.75,120.68 456.70,124.00 C457.65,127.32 458.65,131.13 459.60,135.40 C460.55,139.67 461.47,144.40 462.40,149.60 C463.33,154.80 464.25,160.22 465.20,166.60 C466.15,172.98 467.47,183.17 468.10,187.90 C468.73,192.63 468.85,193.82 469.00,195.00" stroke="#000"/>
<path d="M321.20,132.50 C321.42,131.42 321.70,128.50 322.50,126.00 C323.30,123.50 324.53,120.03 326.00,117.50 C327.47,114.97 329.30,112.58 331.30,110.80 C333.30,109.02 335.77,107.82 338.00,106.80 C340.23,105.78 342.48,105.22 344.70,104.70 C346.92,104.18 349.08,103.70 351.30,103.70 C353.52,103.70 355.77,104.43 358.00,104.70 C360.23,104.97 362.48,105.13 364.70,105.30 C366.92,105.47 369.08,105.67 371.30,105.70 C373.52,105.73 375.77,105.67 378.00,105.50 C380.23,105.33 382.48,105.17 384.70,104.70 C386.92,104.23 389.08,103.48 391.30,102.70 C393.52,101.92 395.77,100.57 398.00,100.00 C400.23,99.43 402.00,99.37 404.70,99.30 C407.40,99.23 410.10,99.22 414.20,99.60 C418.30,99.98 424.42,100.72 429.30,101.60 C434.18,102.48 439.97,103.52 443.50,104.90 C447.03,106.28 448.62,108.13 450.50,109.90 C452.38,111.67 453.62,113.15 454.80,115.50 C455.98,117.85 456.65,120.68 457.60,124.00 C458.55,127.32 459.55,131.13 460.50,135.40 C461.45,139.67 462.37,144.40 463.30,149.60 C464.23,154.80 465.15,160.22 466.10,166.60 C467.05,172.98 468.37,183.17 469.00,187.90 C469.63,192.63 469.75,193.82 469.90,195.00" stroke="#0000ff"/>
<path d="M321.20,132.70 C321.42,131.62 321.70,128.70 322.50,126.20 C323.30,123.70 324.53,120.23 326.00,117.70 C327.47,115.17 329.30,112.78 331.30,111.00 C333.30,109.22 335.77,108.00 338.00,107.00 C340.23,106.00 342.48,105.42 344.70,105.00 C346.92,104.58 349.08,104.40 351.30,104.50 C353.52,104.60 355.77,105.25 358.00,105.60 C360.23,105.95 362.48,106.33 364.70,106.60 C366.92,106.87 369.08,107.13 371.30,107.20 C373.52,107.27 375.77,107.17 378.00,107.00 C380.23,106.83 382.48,106.65 384.70,106.20 C386.92,105.75 389.08,105.13 391.30,104.30 C393.52,103.47 395.77,101.95 398.00,101.20 C400.23,100.45 402.00,100.05 404.70,99.80 C407.40,99.55 410.17,99.40 414.20,99.70 C418.23,100.00 424.08,100.73 428.90,101.60 C433.72,102.47 439.57,103.52 443.10,104.90 C446.63,106.28 448.22,108.13 450.10,109.90 C451.98,111.67 453.22,113.15 454.40,115.50 C455.58,117.85 456.25,120.68 457.20,124.00 C458.15,127.32 459.15,131.13 460.10,135.40 C461.05,139.67 461.97,144.40 462.90,149.60 C463.83,154.80 464.75,160.22 465.70,166.60 C466.65,172.98 467.97,183.17 468.60,187.90 C469.23,192.63 469.35,193.82 469.50,195.00" stroke="#00c800"/>
<path d="M321.20,128.00 C321.50,126.83 322.20,123.12 323.00,121.00 C323.80,118.88 324.62,117.13 326.00,115.30 C327.38,113.47 329.30,111.43 331.30,110.00 C333.30,108.57 335.77,107.42 338.00,106.70 C340.23,105.98 342.48,105.37 344.70,105.70 C346.92,106.03 349.08,107.20 351.30,108.70 C353.52,110.20 355.77,112.88 358.00,114.70 C360.23,116.52 362.48,118.38 364.70,119.60 C366.92,120.82 369.08,121.48 371.30,122.00 C373.52,122.52 375.77,122.75 378.00,122.70 C380.23,122.65 382.48,122.48 384.70,121.70 C386.92,120.92 389.08,119.73 391.30,118.00 C393.52,116.27 395.77,113.42 398.00,111.30 C400.23,109.18 402.48,106.90 404.70,105.30 C406.92,103.70 409.30,102.52 411.30,101.70 C413.30,100.88 413.85,100.50 416.70,100.40 C419.55,100.30 424.57,100.47 428.40,101.10 C432.23,101.73 436.87,102.87 439.70,104.20 C442.53,105.53 443.75,107.22 445.40,109.10 C447.05,110.98 448.18,112.53 449.60,115.50 C451.02,118.47 452.47,122.17 453.90,126.90 C455.33,131.63 456.78,137.52 458.20,143.90 C459.62,150.28 460.98,157.87 462.40,165.20 C463.82,172.53 465.85,182.93 466.70,187.90 C467.55,192.87 467.37,193.82 467.50,195.00" stroke="#ff0000"/>
</g>
<rect x="537.3" y="77.6" width="174.9000000000001" height="111.1" fill="#fff" stroke="none"/>
<clipPath id="clipI2"><rect x="537.3" y="77.6" width="174.9000000000001" height="111.1"/></clipPath>
<line x1="537.30" y1="188.7" x2="537.30" y2="186.10" stroke="#222" stroke-width="1"/>
<line x1="537.30" y1="77.6" x2="537.30" y2="80.20" stroke="#222" stroke-width="1"/>
<text x="537.30" y="199.80" font-size="11.5" text-anchor="middle" >300</text>
<line x1="544.30" y1="188.7" x2="544.30" y2="187.10" stroke="#222" stroke-width="1"/>
<line x1="544.30" y1="77.6" x2="544.30" y2="79.20" stroke="#222" stroke-width="1"/>
<line x1="551.29" y1="188.7" x2="551.29" y2="187.10" stroke="#222" stroke-width="1"/>
<line x1="551.29" y1="77.6" x2="551.29" y2="79.20" stroke="#222" stroke-width="1"/>
<line x1="558.29" y1="188.7" x2="558.29" y2="187.10" stroke="#222" stroke-width="1"/>
<line x1="558.29" y1="77.6" x2="558.29" y2="79.20" stroke="#222" stroke-width="1"/>
<line x1="565.28" y1="188.7" x2="565.28" y2="187.10" stroke="#222" stroke-width="1"/>
<line x1="565.28" y1="77.6" x2="565.28" y2="79.20" stroke="#222" stroke-width="1"/>
<line x1="572.28" y1="188.7" x2="572.28" y2="186.10" stroke="#222" stroke-width="1"/>
<line x1="572.28" y1="77.6" x2="572.28" y2="80.20" stroke="#222" stroke-width="1"/>
<text x="572.28" y="199.80" font-size="11.5" text-anchor="middle" >350</text>
<line x1="579.28" y1="188.7" x2="579.28" y2="187.10" stroke="#222" stroke-width="1"/>
<line x1="579.28" y1="77.6" x2="579.28" y2="79.20" stroke="#222" stroke-width="1"/>
<line x1="586.27" y1="188.7" x2="586.27" y2="187.10" stroke="#222" stroke-width="1"/>
<line x1="586.27" y1="77.6" x2="586.27" y2="79.20" stroke="#222" stroke-width="1"/>
<line x1="593.27" y1="188.7" x2="593.27" y2="187.10" stroke="#222" stroke-width="1"/>
<line x1="593.27" y1="77.6" x2="593.27" y2="79.20" stroke="#222" stroke-width="1"/>
<line x1="600.26" y1="188.7" x2="600.26" y2="187.10" stroke="#222" stroke-width="1"/>
<line x1="600.26" y1="77.6" x2="600.26" y2="79.20" stroke="#222" stroke-width="1"/>
<line x1="607.26" y1="188.7" x2="607.26" y2="186.10" stroke="#222" stroke-width="1"/>
<line x1="607.26" y1="77.6" x2="607.26" y2="80.20" stroke="#222" stroke-width="1"/>
<text x="607.26" y="199.80" font-size="11.5" text-anchor="middle" >400</text>
<line x1="614.26" y1="188.7" x2="614.26" y2="187.10" stroke="#222" stroke-width="1"/>
<line x1="614.26" y1="77.6" x2="614.26" y2="79.20" stroke="#222" stroke-width="1"/>
<line x1="621.25" y1="188.7" x2="621.25" y2="187.10" stroke="#222" stroke-width="1"/>
<line x1="621.25" y1="77.6" x2="621.25" y2="79.20" stroke="#222" stroke-width="1"/>
<line x1="628.25" y1="188.7" x2="628.25" y2="187.10" stroke="#222" stroke-width="1"/>
<line x1="628.25" y1="77.6" x2="628.25" y2="79.20" stroke="#222" stroke-width="1"/>
<line x1="635.24" y1="188.7" x2="635.24" y2="187.10" stroke="#222" stroke-width="1"/>
<line x1="635.24" y1="77.6" x2="635.24" y2="79.20" stroke="#222" stroke-width="1"/>
<line x1="642.24" y1="188.7" x2="642.24" y2="186.10" stroke="#222" stroke-width="1"/>
<line x1="642.24" y1="77.6" x2="642.24" y2="80.20" stroke="#222" stroke-width="1"/>
<text x="642.24" y="199.80" font-size="11.5" text-anchor="middle" >450</text>
<line x1="649.24" y1="188.7" x2="649.24" y2="187.10" stroke="#222" stroke-width="1"/>
<line x1="649.24" y1="77.6" x2="649.24" y2="79.20" stroke="#222" stroke-width="1"/>
<line x1="656.23" y1="188.7" x2="656.23" y2="187.10" stroke="#222" stroke-width="1"/>
<line x1="656.23" y1="77.6" x2="656.23" y2="79.20" stroke="#222" stroke-width="1"/>
<line x1="663.23" y1="188.7" x2="663.23" y2="187.10" stroke="#222" stroke-width="1"/>
<line x1="663.23" y1="77.6" x2="663.23" y2="79.20" stroke="#222" stroke-width="1"/>
<line x1="670.22" y1="188.7" x2="670.22" y2="187.10" stroke="#222" stroke-width="1"/>
<line x1="670.22" y1="77.6" x2="670.22" y2="79.20" stroke="#222" stroke-width="1"/>
<line x1="677.22" y1="188.7" x2="677.22" y2="186.10" stroke="#222" stroke-width="1"/>
<line x1="677.22" y1="77.6" x2="677.22" y2="80.20" stroke="#222" stroke-width="1"/>
<text x="677.22" y="199.80" font-size="11.5" text-anchor="middle" >500</text>
<line x1="684.22" y1="188.7" x2="684.22" y2="187.10" stroke="#222" stroke-width="1"/>
<line x1="684.22" y1="77.6" x2="684.22" y2="79.20" stroke="#222" stroke-width="1"/>
<line x1="691.21" y1="188.7" x2="691.21" y2="187.10" stroke="#222" stroke-width="1"/>
<line x1="691.21" y1="77.6" x2="691.21" y2="79.20" stroke="#222" stroke-width="1"/>
<line x1="698.21" y1="188.7" x2="698.21" y2="187.10" stroke="#222" stroke-width="1"/>
<line x1="698.21" y1="77.6" x2="698.21" y2="79.20" stroke="#222" stroke-width="1"/>
<line x1="705.20" y1="188.7" x2="705.20" y2="187.10" stroke="#222" stroke-width="1"/>
<line x1="705.20" y1="77.6" x2="705.20" y2="79.20" stroke="#222" stroke-width="1"/>
<line x1="712.20" y1="188.7" x2="712.20" y2="186.10" stroke="#222" stroke-width="1"/>
<line x1="712.20" y1="77.6" x2="712.20" y2="80.20" stroke="#222" stroke-width="1"/>
<text x="712.20" y="199.80" font-size="11.5" text-anchor="middle" >550</text>
<line x1="537.3" y1="188.70" x2="539.90" y2="188.70" stroke="#222" stroke-width="1"/>
<line x1="712.2" y1="188.70" x2="709.60" y2="188.70" stroke="#222" stroke-width="1"/>
<line x1="537.3" y1="182.53" x2="538.90" y2="182.53" stroke="#222" stroke-width="1"/>
<line x1="712.2" y1="182.53" x2="710.60" y2="182.53" stroke="#222" stroke-width="1"/>
<line x1="537.3" y1="176.36" x2="539.90" y2="176.36" stroke="#222" stroke-width="1"/>
<line x1="712.2" y1="176.36" x2="709.60" y2="176.36" stroke="#222" stroke-width="1"/>
<text transform="translate(535.00,179.36) scale(0.96,1)" font-size="11.6" text-anchor="end">0.10</text>
<line x1="537.3" y1="170.18" x2="538.90" y2="170.18" stroke="#222" stroke-width="1"/>
<line x1="712.2" y1="170.18" x2="710.60" y2="170.18" stroke="#222" stroke-width="1"/>
<line x1="537.3" y1="164.01" x2="539.90" y2="164.01" stroke="#222" stroke-width="1"/>
<line x1="712.2" y1="164.01" x2="709.60" y2="164.01" stroke="#222" stroke-width="1"/>
<text transform="translate(535.00,167.01) scale(0.96,1)" font-size="11.6" text-anchor="end">0.15</text>
<line x1="537.3" y1="157.84" x2="538.90" y2="157.84" stroke="#222" stroke-width="1"/>
<line x1="712.2" y1="157.84" x2="710.60" y2="157.84" stroke="#222" stroke-width="1"/>
<line x1="537.3" y1="151.67" x2="539.90" y2="151.67" stroke="#222" stroke-width="1"/>
<line x1="712.2" y1="151.67" x2="709.60" y2="151.67" stroke="#222" stroke-width="1"/>
<text transform="translate(535.00,154.67) scale(0.96,1)" font-size="11.6" text-anchor="end">0.20</text>
<line x1="537.3" y1="145.49" x2="538.90" y2="145.49" stroke="#222" stroke-width="1"/>
<line x1="712.2" y1="145.49" x2="710.60" y2="145.49" stroke="#222" stroke-width="1"/>
<line x1="537.3" y1="139.32" x2="539.90" y2="139.32" stroke="#222" stroke-width="1"/>
<line x1="712.2" y1="139.32" x2="709.60" y2="139.32" stroke="#222" stroke-width="1"/>
<text transform="translate(535.00,142.32) scale(0.96,1)" font-size="11.6" text-anchor="end">0.25</text>
<line x1="537.3" y1="133.15" x2="538.90" y2="133.15" stroke="#222" stroke-width="1"/>
<line x1="712.2" y1="133.15" x2="710.60" y2="133.15" stroke="#222" stroke-width="1"/>
<line x1="537.3" y1="126.98" x2="539.90" y2="126.98" stroke="#222" stroke-width="1"/>
<line x1="712.2" y1="126.98" x2="709.60" y2="126.98" stroke="#222" stroke-width="1"/>
<text transform="translate(535.00,129.98) scale(0.96,1)" font-size="11.6" text-anchor="end">0.30</text>
<line x1="537.3" y1="120.81" x2="538.90" y2="120.81" stroke="#222" stroke-width="1"/>
<line x1="712.2" y1="120.81" x2="710.60" y2="120.81" stroke="#222" stroke-width="1"/>
<line x1="537.3" y1="114.63" x2="539.90" y2="114.63" stroke="#222" stroke-width="1"/>
<line x1="712.2" y1="114.63" x2="709.60" y2="114.63" stroke="#222" stroke-width="1"/>
<text transform="translate(535.00,117.63) scale(0.96,1)" font-size="11.6" text-anchor="end">0.35</text>
<line x1="537.3" y1="108.46" x2="538.90" y2="108.46" stroke="#222" stroke-width="1"/>
<line x1="712.2" y1="108.46" x2="710.60" y2="108.46" stroke="#222" stroke-width="1"/>
<line x1="537.3" y1="102.29" x2="539.90" y2="102.29" stroke="#222" stroke-width="1"/>
<line x1="712.2" y1="102.29" x2="709.60" y2="102.29" stroke="#222" stroke-width="1"/>
<text transform="translate(535.00,105.29) scale(0.96,1)" font-size="11.6" text-anchor="end">0.40</text>
<line x1="537.3" y1="96.12" x2="538.90" y2="96.12" stroke="#222" stroke-width="1"/>
<line x1="712.2" y1="96.12" x2="710.60" y2="96.12" stroke="#222" stroke-width="1"/>
<line x1="537.3" y1="89.94" x2="539.90" y2="89.94" stroke="#222" stroke-width="1"/>
<line x1="712.2" y1="89.94" x2="709.60" y2="89.94" stroke="#222" stroke-width="1"/>
<text transform="translate(535.00,92.94) scale(0.96,1)" font-size="11.6" text-anchor="end">0.45</text>
<line x1="537.3" y1="83.77" x2="538.90" y2="83.77" stroke="#222" stroke-width="1"/>
<line x1="712.2" y1="83.77" x2="710.60" y2="83.77" stroke="#222" stroke-width="1"/>
<line x1="537.3" y1="77.60" x2="539.90" y2="77.60" stroke="#222" stroke-width="1"/>
<line x1="712.2" y1="77.60" x2="709.60" y2="77.60" stroke="#222" stroke-width="1"/>
<text x="624.70" y="219.90" font-size="13.3" text-anchor="middle" >Wavelength (nm)</text>
<g clip-path="url(#clipI2)" fill="none" stroke-width="1.3">
<path d="M537.40,77.60 C537.55,83.55 537.70,103.08 538.30,113.30 C538.90,123.52 540.17,132.20 541.00,138.90 C541.83,145.60 542.38,149.65 543.30,153.50 C544.22,157.35 545.52,160.00 546.50,162.00 C547.48,164.00 547.78,164.28 549.20,165.50 C550.62,166.72 551.82,168.28 555.00,169.30 C558.18,170.32 563.85,170.93 568.30,171.60 C572.75,172.27 577.25,172.63 581.70,173.30 C586.15,173.97 590.12,174.87 595.00,175.60 C599.88,176.33 606.00,177.23 611.00,177.70 C616.00,178.17 619.67,178.25 625.00,178.40 C630.33,178.55 637.00,178.30 643.00,178.60 C649.00,178.90 655.60,179.53 661.00,180.20 C666.40,180.87 671.40,182.00 675.40,182.60 C679.40,183.20 681.40,183.40 685.00,183.80 C688.60,184.20 692.42,184.73 697.00,185.00 C701.58,185.27 709.92,185.33 712.50,185.40" stroke="#000"/>
<path d="M537.40,77.60 C537.58,83.55 537.85,103.08 538.50,113.30 C539.15,123.52 540.45,132.37 541.30,138.90 C542.15,145.43 542.57,148.93 543.60,152.50 C544.63,156.07 546.43,158.50 547.50,160.30 C548.57,162.10 548.75,162.40 550.00,163.30 C551.25,164.20 551.95,165.13 555.00,165.70 C558.05,166.27 563.85,166.43 568.30,166.70 C572.75,166.97 577.25,166.80 581.70,167.30 C586.15,167.80 590.12,168.70 595.00,169.70 C599.88,170.70 606.00,172.55 611.00,173.30 C616.00,174.05 619.67,174.15 625.00,174.20 C630.33,174.25 637.00,173.30 643.00,173.60 C649.00,173.90 655.60,174.90 661.00,176.00 C666.40,177.10 671.40,178.97 675.40,180.20 C679.40,181.43 681.40,182.60 685.00,183.40 C688.60,184.20 692.42,184.70 697.00,185.00 C701.58,185.30 709.92,185.17 712.50,185.20" stroke="#0000ff"/>
<path d="M537.40,77.60 C537.62,83.55 538.02,103.08 538.70,113.30 C539.38,123.52 540.62,132.50 541.50,138.90 C542.38,145.30 542.93,148.30 544.00,151.70 C545.07,155.10 546.90,157.58 547.90,159.30 C548.90,161.02 548.82,161.15 550.00,162.00 C551.18,162.85 551.95,163.92 555.00,164.40 C558.05,164.88 563.85,164.90 568.30,164.90 C572.75,164.90 577.25,164.10 581.70,164.40 C586.15,164.70 590.12,165.58 595.00,166.70 C599.88,167.82 606.00,170.38 611.00,171.10 C616.00,171.82 619.67,171.28 625.00,171.00 C630.33,170.72 637.00,169.17 643.00,169.40 C649.00,169.63 655.60,170.90 661.00,172.40 C666.40,173.90 671.40,176.80 675.40,178.40 C679.40,180.00 681.40,181.00 685.00,182.00 C688.60,183.00 692.42,183.90 697.00,184.40 C701.58,184.90 709.92,184.90 712.50,185.00" stroke="#00e000"/>
<path d="M537.40,77.60 C537.67,79.30 538.53,83.97 539.00,87.80 C539.47,91.63 539.78,96.35 540.20,100.60 C540.62,104.85 541.07,109.05 541.50,113.30 C541.93,117.55 542.27,121.83 542.80,126.10 C543.33,130.37 543.85,135.07 544.70,138.90 C545.55,142.73 546.73,146.55 547.90,149.10 C549.07,151.65 550.22,153.05 551.70,154.20 C553.18,155.35 555.08,155.73 556.80,156.00 C558.52,156.27 560.08,156.02 562.00,155.80 C563.92,155.58 566.13,155.10 568.30,154.70 C570.47,154.30 572.77,153.73 575.00,153.40 C577.23,153.07 579.48,152.72 581.70,152.70 C583.92,152.68 586.08,152.63 588.30,153.30 C590.52,153.97 592.77,155.58 595.00,156.70 C597.23,157.82 599.03,159.00 601.70,160.00 C604.37,161.00 607.67,162.37 611.00,162.70 C614.33,163.03 617.87,162.38 621.70,162.00 C625.53,161.62 630.45,160.87 634.00,160.40 C637.55,159.93 639.90,159.10 643.00,159.20 C646.10,159.30 649.60,160.20 652.60,161.00 C655.60,161.80 658.40,162.70 661.00,164.00 C663.60,165.30 665.80,167.00 668.20,168.80 C670.60,170.60 673.00,173.00 675.40,174.80 C677.80,176.60 680.00,178.30 682.60,179.60 C685.20,180.90 687.80,181.90 691.00,182.60 C694.20,183.30 698.22,183.43 701.80,183.80 C705.38,184.17 710.72,184.63 712.50,184.80" stroke="#ff0000"/>
</g>
<rect x="563.5" y="88.5" width="145.5" height="54" fill="#fff" stroke="#999" stroke-width="1"/>
<line x1="565.3" y1="95.30" x2="590.7" y2="95.30" stroke="#ff0000" stroke-width="1.3"/>
<text x="593.00" y="98.90" font-size="11.05" text-anchor="start" >1.4 wt % Riboflavin:DNA</text>
<line x1="565.3" y1="108.80" x2="590.7" y2="108.80" stroke="#00e000" stroke-width="1.3"/>
<text x="593.00" y="112.40" font-size="11.05" text-anchor="start" >0.9 wt % Riboflavin:DNA</text>
<line x1="565.3" y1="122.30" x2="590.7" y2="122.30" stroke="#0000ff" stroke-width="1.3"/>
<text x="593.00" y="125.90" font-size="11.05" text-anchor="start" >0.6 wt % Riboflavin:DNA</text>
<line x1="565.3" y1="135.80" x2="590.7" y2="135.80" stroke="#000" stroke-width="1.3"/>
<text x="593.00" y="139.40" font-size="11.05" text-anchor="start" >0.3 wt % Riboflavin:DNA</text>
<rect x="537.3" y="77.6" width="174.9000000000001" height="111.1" fill="none" stroke="#111" stroke-width="1.5"/>
</g>
<line x1="76.5" y1="337.5" x2="370" y2="337.5" stroke="#8a8a8a" stroke-width="1"/>
<line x1="80.5" y1="337" x2="80.5" y2="651" stroke="#787878" stroke-width="1"/>
<line x1="80" y1="647.5" x2="370" y2="647.5" stroke="#787878" stroke-width="1"/>
<line x1="369.5" y1="337" x2="369.5" y2="651" stroke="#787878" stroke-width="1"/>
<line x1="76.90" y1="337.5" x2="80.5" y2="337.5" stroke="#787878" stroke-width="1"/>
<text transform="translate(74.00,342.90) scale(0.94,1)" font-size="17.6" text-anchor="end">1.585</text>
<line x1="78.70" y1="346.5" x2="80.5" y2="346.5" stroke="#787878" stroke-width="1"/>
<line x1="367.40" y1="346.5" x2="369.5" y2="346.5" stroke="#787878" stroke-width="1"/>
<line x1="78.70" y1="355.5" x2="80.5" y2="355.5" stroke="#787878" stroke-width="1"/>
<line x1="367.40" y1="355.5" x2="369.5" y2="355.5" stroke="#787878" stroke-width="1"/>
<line x1="78.70" y1="364.5" x2="80.5" y2="364.5" stroke="#787878" stroke-width="1"/>
<line x1="367.40" y1="364.5" x2="369.5" y2="364.5" stroke="#787878" stroke-width="1"/>
<line x1="78.70" y1="373.5" x2="80.5" y2="373.5" stroke="#787878" stroke-width="1"/>
<line x1="367.40" y1="373.5" x2="369.5" y2="373.5" stroke="#787878" stroke-width="1"/>
<line x1="76.90" y1="382.5" x2="80.5" y2="382.5" stroke="#787878" stroke-width="1"/>
<line x1="366.10" y1="382.5" x2="369.5" y2="382.5" stroke="#787878" stroke-width="1"/>
<text transform="translate(74.00,387.02) scale(0.94,1)" font-size="17.6" text-anchor="end">1.580</text>
<line x1="78.70" y1="391.5" x2="80.5" y2="391.5" stroke="#787878" stroke-width="1"/>
<line x1="367.40" y1="391.5" x2="369.5" y2="391.5" stroke="#787878" stroke-width="1"/>
<line x1="78.70" y1="399.5" x2="80.5" y2="399.5" stroke="#787878" stroke-width="1"/>
<line x1="367.40" y1="399.5" x2="369.5" y2="399.5" stroke="#787878" stroke-width="1"/>
<line x1="78.70" y1="408.5" x2="80.5" y2="408.5" stroke="#787878" stroke-width="1"/>
<line x1="367.40" y1="408.5" x2="369.5" y2="408.5" stroke="#787878" stroke-width="1"/>
<line x1="78.70" y1="417.5" x2="80.5" y2="417.5" stroke="#787878" stroke-width="1"/>
<line x1="367.40" y1="417.5" x2="369.5" y2="417.5" stroke="#787878" stroke-width="1"/>
<line x1="76.90" y1="426.5" x2="80.5" y2="426.5" stroke="#787878" stroke-width="1"/>
<line x1="366.10" y1="426.5" x2="369.5" y2="426.5" stroke="#787878" stroke-width="1"/>
<text transform="translate(74.00,431.14) scale(0.94,1)" font-size="17.6" text-anchor="end">1.575</text>
<line x1="78.70" y1="435.5" x2="80.5" y2="435.5" stroke="#787878" stroke-width="1"/>
<line x1="367.40" y1="435.5" x2="369.5" y2="435.5" stroke="#787878" stroke-width="1"/>
<line x1="78.70" y1="443.5" x2="80.5" y2="443.5" stroke="#787878" stroke-width="1"/>
<line x1="367.40" y1="443.5" x2="369.5" y2="443.5" stroke="#787878" stroke-width="1"/>
<line x1="78.70" y1="452.5" x2="80.5" y2="452.5" stroke="#787878" stroke-width="1"/>
<line x1="367.40" y1="452.5" x2="369.5" y2="452.5" stroke="#787878" stroke-width="1"/>
<line x1="78.70" y1="461.5" x2="80.5" y2="461.5" stroke="#787878" stroke-width="1"/>
<line x1="367.40" y1="461.5" x2="369.5" y2="461.5" stroke="#787878" stroke-width="1"/>
<line x1="76.90" y1="470.5" x2="80.5" y2="470.5" stroke="#787878" stroke-width="1"/>
<line x1="366.10" y1="470.5" x2="369.5" y2="470.5" stroke="#787878" stroke-width="1"/>
<text transform="translate(74.00,475.26) scale(0.94,1)" font-size="17.6" text-anchor="end">1.570</text>
<line x1="78.70" y1="479.5" x2="80.5" y2="479.5" stroke="#787878" stroke-width="1"/>
<line x1="367.40" y1="479.5" x2="369.5" y2="479.5" stroke="#787878" stroke-width="1"/>
<line x1="78.70" y1="488.5" x2="80.5" y2="488.5" stroke="#787878" stroke-width="1"/>
<line x1="367.40" y1="488.5" x2="369.5" y2="488.5" stroke="#787878" stroke-width="1"/>
<line x1="78.70" y1="496.5" x2="80.5" y2="496.5" stroke="#787878" stroke-width="1"/>
<line x1="367.40" y1="496.5" x2="369.5" y2="496.5" stroke="#787878" stroke-width="1"/>
<line x1="78.70" y1="505.5" x2="80.5" y2="505.5" stroke="#787878" stroke-width="1"/>
<line x1="367.40" y1="505.5" x2="369.5" y2="505.5" stroke="#787878" stroke-width="1"/>
<line x1="76.90" y1="514.5" x2="80.5" y2="514.5" stroke="#787878" stroke-width="1"/>
<line x1="366.10" y1="514.5" x2="369.5" y2="514.5" stroke="#787878" stroke-width="1"/>
<text transform="translate(74.00,519.38) scale(0.94,1)" font-size="17.6" text-anchor="end">1.565</text>
<line x1="78.70" y1="523.5" x2="80.5" y2="523.5" stroke="#787878" stroke-width="1"/>
<line x1="367.40" y1="523.5" x2="369.5" y2="523.5" stroke="#787878" stroke-width="1"/>
<line x1="78.70" y1="532.5" x2="80.5" y2="532.5" stroke="#787878" stroke-width="1"/>
<line x1="367.40" y1="532.5" x2="369.5" y2="532.5" stroke="#787878" stroke-width="1"/>
<line x1="78.70" y1="541.5" x2="80.5" y2="541.5" stroke="#787878" stroke-width="1"/>
<line x1="367.40" y1="541.5" x2="369.5" y2="541.5" stroke="#787878" stroke-width="1"/>
<line x1="78.70" y1="549.5" x2="80.5" y2="549.5" stroke="#787878" stroke-width="1"/>
<line x1="367.40" y1="549.5" x2="369.5" y2="549.5" stroke="#787878" stroke-width="1"/>
<line x1="76.90" y1="558.5" x2="80.5" y2="558.5" stroke="#787878" stroke-width="1"/>
<line x1="366.10" y1="558.5" x2="369.5" y2="558.5" stroke="#787878" stroke-width="1"/>
<text transform="translate(74.00,563.50) scale(0.94,1)" font-size="17.6" text-anchor="end">1.560</text>
<line x1="78.70" y1="567.5" x2="80.5" y2="567.5" stroke="#787878" stroke-width="1"/>
<line x1="367.40" y1="567.5" x2="369.5" y2="567.5" stroke="#787878" stroke-width="1"/>
<line x1="78.70" y1="576.5" x2="80.5" y2="576.5" stroke="#787878" stroke-width="1"/>
<line x1="367.40" y1="576.5" x2="369.5" y2="576.5" stroke="#787878" stroke-width="1"/>
<line x1="78.70" y1="585.5" x2="80.5" y2="585.5" stroke="#787878" stroke-width="1"/>
<line x1="367.40" y1="585.5" x2="369.5" y2="585.5" stroke="#787878" stroke-width="1"/>
<line x1="78.70" y1="593.5" x2="80.5" y2="593.5" stroke="#787878" stroke-width="1"/>
<line x1="367.40" y1="593.5" x2="369.5" y2="593.5" stroke="#787878" stroke-width="1"/>
<line x1="76.90" y1="602.5" x2="80.5" y2="602.5" stroke="#787878" stroke-width="1"/>
<line x1="366.10" y1="602.5" x2="369.5" y2="602.5" stroke="#787878" stroke-width="1"/>
<text transform="translate(74.00,607.62) scale(0.94,1)" font-size="17.6" text-anchor="end">1.555</text>
<line x1="78.70" y1="611.5" x2="80.5" y2="611.5" stroke="#787878" stroke-width="1"/>
<line x1="367.40" y1="611.5" x2="369.5" y2="611.5" stroke="#787878" stroke-width="1"/>
<line x1="78.70" y1="620.5" x2="80.5" y2="620.5" stroke="#787878" stroke-width="1"/>
<line x1="367.40" y1="620.5" x2="369.5" y2="620.5" stroke="#787878" stroke-width="1"/>
<line x1="78.70" y1="629.5" x2="80.5" y2="629.5" stroke="#787878" stroke-width="1"/>
<line x1="367.40" y1="629.5" x2="369.5" y2="629.5" stroke="#787878" stroke-width="1"/>
<line x1="78.70" y1="638.5" x2="80.5" y2="638.5" stroke="#787878" stroke-width="1"/>
<line x1="367.40" y1="638.5" x2="369.5" y2="638.5" stroke="#787878" stroke-width="1"/>
<line x1="76.90" y1="646.5" x2="80.5" y2="646.5" stroke="#787878" stroke-width="1"/>
<line x1="80.5" y1="647.5" x2="80.5" y2="651.10" stroke="#787878" stroke-width="1"/>
<text transform="translate(80.00,666.80) scale(0.94,1)" font-size="17.6" text-anchor="middle">500</text>
<line x1="94.5" y1="647.5" x2="94.5" y2="649.60" stroke="#787878" stroke-width="1"/>
<line x1="108.5" y1="647.5" x2="108.5" y2="649.60" stroke="#787878" stroke-width="1"/>
<line x1="123.5" y1="647.5" x2="123.5" y2="649.60" stroke="#787878" stroke-width="1"/>
<line x1="137.5" y1="647.5" x2="137.5" y2="649.60" stroke="#787878" stroke-width="1"/>
<line x1="152.5" y1="647.5" x2="152.5" y2="651.10" stroke="#787878" stroke-width="1"/>
<text transform="translate(152.43,666.80) scale(0.94,1)" font-size="17.6" text-anchor="middle">600</text>
<line x1="166.5" y1="647.5" x2="166.5" y2="649.60" stroke="#787878" stroke-width="1"/>
<line x1="181.5" y1="647.5" x2="181.5" y2="649.60" stroke="#787878" stroke-width="1"/>
<line x1="195.5" y1="647.5" x2="195.5" y2="649.60" stroke="#787878" stroke-width="1"/>
<line x1="210.5" y1="647.5" x2="210.5" y2="649.60" stroke="#787878" stroke-width="1"/>
<line x1="224.5" y1="647.5" x2="224.5" y2="651.10" stroke="#787878" stroke-width="1"/>
<text transform="translate(224.85,666.80) scale(0.94,1)" font-size="17.6" text-anchor="middle">700</text>
<line x1="239.5" y1="647.5" x2="239.5" y2="649.60" stroke="#787878" stroke-width="1"/>
<line x1="253.5" y1="647.5" x2="253.5" y2="649.60" stroke="#787878" stroke-width="1"/>
<line x1="268.5" y1="647.5" x2="268.5" y2="649.60" stroke="#787878" stroke-width="1"/>
<line x1="282.5" y1="647.5" x2="282.5" y2="649.60" stroke="#787878" stroke-width="1"/>
<line x1="297.5" y1="647.5" x2="297.5" y2="651.10" stroke="#787878" stroke-width="1"/>
<text transform="translate(297.27,666.80) scale(0.94,1)" font-size="17.6" text-anchor="middle">800</text>
<line x1="311.5" y1="647.5" x2="311.5" y2="649.60" stroke="#787878" stroke-width="1"/>
<line x1="326.5" y1="647.5" x2="326.5" y2="649.60" stroke="#787878" stroke-width="1"/>
<line x1="340.5" y1="647.5" x2="340.5" y2="649.60" stroke="#787878" stroke-width="1"/>
<line x1="355.5" y1="647.5" x2="355.5" y2="649.60" stroke="#787878" stroke-width="1"/>
<line x1="369.5" y1="647.5" x2="369.5" y2="651.10" stroke="#787878" stroke-width="1"/>
<text transform="translate(369.70,666.80) scale(0.94,1)" font-size="17.6" text-anchor="middle">900</text>
<text x="225.60" y="698.00" font-size="20.5" text-anchor="middle" >Wavelength (nm)</text>
<text x="0" y="0" font-size="20.5" text-anchor="middle" transform="translate(24.0,512.8) rotate(-90)">Refractive index</text>
<text x="10.60" y="366.60" font-size="25" text-anchor="start" font-weight="bold">b</text>
<clipPath id="clipB"><rect x="80.0" y="337.7" width="289.7" height="309.7"/></clipPath>
<g clip-path="url(#clipB)" fill="none" stroke-width="2.8">
<path d="M80.00,525.06 L82.43,527.15 L84.87,529.20 L87.30,531.22 L89.74,533.20 L92.17,535.15 L94.61,537.07 L97.04,538.95 L99.48,540.80 L101.91,542.61 L104.34,544.39 L106.78,546.14 L109.21,547.86 L111.65,549.54 L114.08,551.20 L116.52,552.82 L118.95,554.42 L121.39,555.98 L123.82,557.51 L126.25,559.02 L128.69,560.49 L131.12,561.94 L133.56,563.36 L135.99,564.75 L138.43,566.11 L140.86,567.45 L143.30,568.76 L145.73,570.04 L148.16,571.29 L150.60,572.52 L153.03,573.73 L155.47,574.91 L157.90,576.07 L160.34,577.20 L162.77,578.30 L165.21,579.39 L167.64,580.45 L170.07,581.49 L172.51,582.50 L174.94,583.50 L177.38,584.47 L179.81,585.42 L182.25,586.35 L184.68,587.25 L187.12,588.14 L189.55,589.01 L191.98,589.86 L194.42,590.69 L196.85,591.50 L199.29,592.29 L201.72,593.07 L204.16,593.82 L206.59,594.56 L209.03,595.28 L211.46,595.99 L213.89,596.68 L216.33,597.35 L218.76,598.01 L221.20,598.65 L223.63,599.28 L226.07,599.89 L228.50,600.49 L230.94,601.07 L233.37,601.65 L235.81,602.21 L238.24,602.75 L240.67,603.29 L243.11,603.81 L245.54,604.32 L247.98,604.82 L250.41,605.30 L252.85,605.78 L255.28,606.25 L257.72,606.71 L260.15,607.16 L262.58,607.60 L265.02,608.03 L267.45,608.45 L269.89,608.86 L272.32,609.27 L274.76,609.67 L277.19,610.06 L279.63,610.45 L282.06,610.83 L284.49,611.21 L286.93,611.58 L289.36,611.94 L291.80,612.30 L294.23,612.66 L296.67,613.01 L299.10,613.35 L301.54,613.70 L303.97,614.04 L306.40,614.38 L308.84,614.72 L311.27,615.05 L313.71,615.39 L316.14,615.72 L318.58,616.05 L321.01,616.38 L323.45,616.72 L325.88,617.05 L328.31,617.38 L330.75,617.72 L333.18,618.05 L335.62,618.39 L338.05,618.73 L340.49,619.07 L342.92,619.42 L345.36,619.77 L347.79,620.12 L350.22,620.48 L352.66,620.84 L355.09,621.21 L357.53,621.58 L359.96,621.95 L362.40,622.34 L364.83,622.73 L367.27,623.12 L369.70,623.52" stroke="#000"/>
<path d="M80.00,482.25 L82.43,483.02 L84.87,483.87 L87.30,484.82 L89.74,485.86 L92.17,486.98 L94.61,488.18 L97.04,489.46 L99.48,490.81 L101.91,492.24 L104.34,493.73 L106.78,495.29 L109.21,496.91 L111.65,498.58 L114.08,500.31 L116.52,502.09 L118.95,503.92 L121.39,505.79 L123.82,507.71 L126.25,509.66 L128.69,511.64 L131.12,513.65 L133.56,515.69 L135.99,517.76 L138.43,519.84 L140.86,521.94 L143.30,524.05 L145.73,526.18 L148.16,528.31 L150.60,530.44 L153.03,532.57 L155.47,534.70 L157.90,536.82 L160.34,538.93 L162.77,541.03 L165.21,543.11 L167.64,545.17 L170.07,547.20 L172.51,549.20 L174.94,551.18 L177.38,553.12 L179.81,555.02 L182.25,556.88 L184.68,558.70 L187.12,560.47 L189.55,562.19 L191.98,563.87 L194.42,565.50 L196.85,567.09 L199.29,568.64 L201.72,570.15 L204.16,571.61 L206.59,573.03 L209.03,574.42 L211.46,575.76 L213.89,577.07 L216.33,578.34 L218.76,579.58 L221.20,580.78 L223.63,581.95 L226.07,583.08 L228.50,584.18 L230.94,585.25 L233.37,586.29 L235.81,587.30 L238.24,588.29 L240.67,589.24 L243.11,590.17 L245.54,591.07 L247.98,591.95 L250.41,592.80 L252.85,593.63 L255.28,594.43 L257.72,595.22 L260.15,595.98 L262.58,596.73 L265.02,597.45 L267.45,598.16 L269.89,598.85 L272.32,599.53 L274.76,600.19 L277.19,600.83 L279.63,601.46 L282.06,602.08 L284.49,602.69 L286.93,603.29 L289.36,603.87 L291.80,604.45 L294.23,605.02 L296.67,605.58 L299.10,606.14 L301.54,606.69 L303.97,607.23 L306.40,607.77 L308.84,608.31 L311.27,608.85 L313.71,609.38 L316.14,609.92 L318.58,610.46 L321.01,610.99 L323.45,611.53 L325.88,612.08 L328.31,612.62 L330.75,613.18 L333.18,613.74 L335.62,614.30 L338.05,614.88 L340.49,615.46 L342.92,616.05 L345.36,616.65 L347.79,617.27 L350.22,617.89 L352.66,618.53 L355.09,619.19 L357.53,619.86 L359.96,620.54 L362.40,621.24 L364.83,621.96 L367.27,622.70 L369.70,623.45" stroke="#ff0000"/>
<path d="M80.00,483.10 L82.43,481.24 L84.87,479.66 L87.30,478.35 L89.74,477.31 L92.17,476.53 L94.61,476.00 L97.04,475.71 L99.48,475.66 L101.91,475.83 L104.34,476.23 L106.78,476.84 L109.21,477.66 L111.65,478.67 L114.08,479.88 L116.52,481.27 L118.95,482.83 L121.39,484.55 L123.82,486.42 L126.25,488.42 L128.69,490.54 L131.12,492.76 L133.56,495.09 L135.99,497.49 L138.43,499.97 L140.86,502.50 L143.30,505.09 L145.73,507.72 L148.16,510.37 L150.60,513.04 L153.03,515.71 L155.47,518.38 L157.90,521.04 L160.34,523.66 L162.77,526.25 L165.21,528.79 L167.64,531.27 L170.07,533.68 L172.51,536.01 L174.94,538.27 L177.38,540.46 L179.81,542.58 L182.25,544.64 L184.68,546.66 L187.12,548.62 L189.55,550.54 L191.98,552.41 L194.42,554.24 L196.85,556.02 L199.29,557.76 L201.72,559.46 L204.16,561.11 L206.59,562.73 L209.03,564.30 L211.46,565.83 L213.89,567.33 L216.33,568.79 L218.76,570.21 L221.20,571.59 L223.63,572.94 L226.07,574.26 L228.50,575.54 L230.94,576.79 L233.37,578.00 L235.81,579.19 L238.24,580.34 L240.67,581.47 L243.11,582.56 L245.54,583.63 L247.98,584.67 L250.41,585.68 L252.85,586.67 L255.28,587.63 L257.72,588.57 L260.15,589.49 L262.58,590.38 L265.02,591.25 L267.45,592.11 L269.89,592.94 L272.32,593.75 L274.76,594.54 L277.19,595.32 L279.63,596.08 L282.06,596.82 L284.49,597.55 L286.93,598.26 L289.36,598.96 L291.80,599.65 L294.23,600.32 L296.67,600.99 L299.10,601.64 L301.54,602.28 L303.97,602.92 L306.40,603.54 L308.84,604.17 L311.27,604.78 L313.71,605.39 L316.14,605.99 L318.58,606.59 L321.01,607.19 L323.45,607.78 L325.88,608.37 L328.31,608.97 L330.75,609.56 L333.18,610.15 L335.62,610.75 L338.05,611.35 L340.49,611.95 L342.92,612.55 L345.36,613.16 L347.79,613.78 L350.22,614.40 L352.66,615.03 L355.09,615.67 L357.53,616.32 L359.96,616.97 L362.40,617.64 L364.83,618.32 L367.27,619.01 L369.70,619.71" stroke="#00ff00"/>
<path d="M80.00,451.05 L82.43,448.58 L84.87,446.45 L87.30,444.65 L89.74,443.18 L92.17,442.02 L94.61,441.16 L97.04,440.60 L99.48,440.33 L101.91,440.33 L104.34,440.60 L106.78,441.12 L109.21,441.88 L111.65,442.88 L114.08,444.11 L116.52,445.55 L118.95,447.19 L121.39,449.00 L123.82,450.97 L126.25,453.08 L128.69,455.31 L131.12,457.65 L133.56,460.07 L135.99,462.55 L138.43,465.09 L140.86,467.68 L143.30,470.31 L145.73,472.97 L148.16,475.65 L150.60,478.36 L153.03,481.08 L155.47,483.81 L157.90,486.54 L160.34,489.26 L162.77,491.97 L165.21,494.66 L167.64,497.33 L170.07,499.96 L172.51,502.55 L174.94,505.10 L177.38,507.59 L179.81,510.02 L182.25,512.39 L184.68,514.68 L187.12,516.90 L189.55,519.04 L191.98,521.11 L194.42,523.11 L196.85,525.04 L199.29,526.90 L201.72,528.69 L204.16,530.43 L206.59,532.10 L209.03,533.72 L211.46,535.28 L213.89,536.79 L216.33,538.25 L218.76,539.65 L221.20,541.02 L223.63,542.33 L226.07,543.61 L228.50,544.84 L230.94,546.04 L233.37,547.20 L235.81,548.32 L238.24,549.42 L240.67,550.48 L243.11,551.52 L245.54,552.54 L247.98,553.53 L250.41,554.50 L252.85,555.45 L255.28,556.39 L257.72,557.32 L260.15,558.23 L262.58,559.13 L265.02,560.03 L267.45,560.92 L269.89,561.81 L272.32,562.70 L274.76,563.59 L277.19,564.47 L279.63,565.35 L282.06,566.24 L284.49,567.11 L286.93,567.99 L289.36,568.85 L291.80,569.72 L294.23,570.57 L296.67,571.42 L299.10,572.27 L301.54,573.10 L303.97,573.93 L306.40,574.75 L308.84,575.55 L311.27,576.35 L313.71,577.13 L316.14,577.91 L318.58,578.67 L321.01,579.42 L323.45,580.15 L325.88,580.87 L328.31,581.57 L330.75,582.26 L333.18,582.94 L335.62,583.59 L338.05,584.23 L340.49,584.85 L342.92,585.45 L345.36,586.03 L347.79,586.59 L350.22,587.13 L352.66,587.65 L355.09,588.14 L357.53,588.62 L359.96,589.07 L362.40,589.49 L364.83,589.89 L367.27,590.27 L369.70,590.62" stroke="#00ffff"/>
<path d="M80.00,413.59 L82.43,410.87 L84.87,408.50 L87.30,406.47 L89.74,404.78 L92.17,403.41 L94.61,402.37 L97.04,401.64 L99.48,401.22 L101.91,401.11 L104.34,401.30 L106.78,401.77 L109.21,402.54 L111.65,403.59 L114.08,404.91 L116.52,406.49 L118.95,408.32 L121.39,410.37 L123.82,412.60 L126.25,415.01 L128.69,417.57 L131.12,420.25 L133.56,423.03 L135.99,425.89 L138.43,428.81 L140.86,431.76 L143.30,434.75 L145.73,437.75 L148.16,440.74 L150.60,443.72 L153.03,446.67 L155.47,449.57 L157.90,452.41 L160.34,455.17 L162.77,457.83 L165.21,460.40 L167.64,462.86 L170.07,465.23 L172.51,467.53 L174.94,469.75 L177.38,471.90 L179.81,474.01 L182.25,476.06 L184.68,478.06 L187.12,480.01 L189.55,481.92 L191.98,483.78 L194.42,485.61 L196.85,487.40 L199.29,489.16 L201.72,490.89 L204.16,492.59 L206.59,494.26 L209.03,495.90 L211.46,497.51 L213.89,499.09 L216.33,500.64 L218.76,502.17 L221.20,503.66 L223.63,505.13 L226.07,506.57 L228.50,507.99 L230.94,509.38 L233.37,510.74 L235.81,512.08 L238.24,513.39 L240.67,514.68 L243.11,515.94 L245.54,517.18 L247.98,518.40 L250.41,519.59 L252.85,520.76 L255.28,521.91 L257.72,523.04 L260.15,524.14 L262.58,525.22 L265.02,526.28 L267.45,527.33 L269.89,528.35 L272.32,529.35 L274.76,530.33 L277.19,531.29 L279.63,532.24 L282.06,533.16 L284.49,534.07 L286.93,534.96 L289.36,535.84 L291.80,536.70 L294.23,537.54 L296.67,538.36 L299.10,539.17 L301.54,539.97 L303.97,540.75 L306.40,541.51 L308.84,542.26 L311.27,543.00 L313.71,543.72 L316.14,544.43 L318.58,545.13 L321.01,545.82 L323.45,546.49 L325.88,547.16 L328.31,547.81 L330.75,548.45 L333.18,549.08 L335.62,549.71 L338.05,550.32 L340.49,550.92 L342.92,551.52 L345.36,552.10 L347.79,552.68 L350.22,553.25 L352.66,553.82 L355.09,554.37 L357.53,554.92 L359.96,555.47 L362.40,556.01 L364.83,556.54 L367.27,557.07 L369.70,557.59" stroke="#0000f0"/>
</g>
<line x1="102.10" y1="525.20" x2="102.10" y2="560.40" stroke="#000" stroke-width="1.5"/>
<line x1="99.50" y1="525.20" x2="104.70" y2="525.20" stroke="#000" stroke-width="1.5"/>
<line x1="99.50" y1="560.40" x2="104.70" y2="560.40" stroke="#000" stroke-width="1.5"/>
<line x1="102.10" y1="475.20" x2="102.10" y2="508.40" stroke="#ff0000" stroke-width="1.5"/>
<line x1="99.50" y1="475.20" x2="104.70" y2="475.20" stroke="#ff0000" stroke-width="1.5"/>
<line x1="99.50" y1="508.40" x2="104.70" y2="508.40" stroke="#ff0000" stroke-width="1.5"/>
<line x1="102.10" y1="459.20" x2="102.10" y2="492.40" stroke="#00ff00" stroke-width="1.5"/>
<line x1="99.50" y1="459.20" x2="104.70" y2="459.20" stroke="#00ff00" stroke-width="1.5"/>
<line x1="99.50" y1="492.40" x2="104.70" y2="492.40" stroke="#00ff00" stroke-width="1.5"/>
<line x1="102.10" y1="424.70" x2="102.10" y2="456.90" stroke="#00ffff" stroke-width="1.5"/>
<line x1="99.50" y1="424.70" x2="104.70" y2="424.70" stroke="#00ffff" stroke-width="1.5"/>
<line x1="99.50" y1="456.90" x2="104.70" y2="456.90" stroke="#00ffff" stroke-width="1.5"/>
<line x1="102.10" y1="385.00" x2="102.10" y2="417.20" stroke="#0000f0" stroke-width="1.5"/>
<line x1="99.50" y1="385.00" x2="104.70" y2="385.00" stroke="#0000f0" stroke-width="1.5"/>
<line x1="99.50" y1="417.20" x2="104.70" y2="417.20" stroke="#0000f0" stroke-width="1.5"/>
<line x1="176.30" y1="565.40" x2="176.30" y2="600.60" stroke="#000" stroke-width="1.5"/>
<line x1="173.70" y1="565.40" x2="178.90" y2="565.40" stroke="#000" stroke-width="1.5"/>
<line x1="173.70" y1="600.60" x2="178.90" y2="600.60" stroke="#000" stroke-width="1.5"/>
<line x1="176.30" y1="534.80" x2="176.30" y2="568.40" stroke="#ff0000" stroke-width="1.5"/>
<line x1="173.70" y1="534.80" x2="178.90" y2="534.80" stroke="#ff0000" stroke-width="1.5"/>
<line x1="173.70" y1="568.40" x2="178.90" y2="568.40" stroke="#ff0000" stroke-width="1.5"/>
<line x1="176.30" y1="522.50" x2="176.30" y2="556.10" stroke="#00ff00" stroke-width="1.5"/>
<line x1="173.70" y1="522.50" x2="178.90" y2="522.50" stroke="#00ff00" stroke-width="1.5"/>
<line x1="173.70" y1="556.10" x2="178.90" y2="556.10" stroke="#00ff00" stroke-width="1.5"/>
<line x1="176.30" y1="490.30" x2="176.30" y2="522.30" stroke="#00ffff" stroke-width="1.5"/>
<line x1="173.70" y1="490.30" x2="178.90" y2="490.30" stroke="#00ffff" stroke-width="1.5"/>
<line x1="173.70" y1="522.30" x2="178.90" y2="522.30" stroke="#00ffff" stroke-width="1.5"/>
<line x1="176.30" y1="453.00" x2="176.30" y2="485.40" stroke="#0000f0" stroke-width="1.5"/>
<line x1="173.70" y1="453.00" x2="178.90" y2="453.00" stroke="#0000f0" stroke-width="1.5"/>
<line x1="173.70" y1="485.40" x2="178.90" y2="485.40" stroke="#0000f0" stroke-width="1.5"/>
<circle cx="224.9" cy="505.6" r="1.8" fill="#0000f0"/>
<rect x="159.5" y="345.5" width="200" height="90" fill="#fff" stroke="#8a8a8a" stroke-width="1"/>
<line x1="162.3" y1="357.00" x2="195.5" y2="357.00" stroke="#0000f0" stroke-width="2.6"/>
<text x="198.80" y="361.80" font-size="14.15" text-anchor="start" >1.4 wt. % Riboflavin:DNA</text>
<line x1="162.3" y1="374.75" x2="195.5" y2="374.75" stroke="#00ffff" stroke-width="2.2"/>
<text x="198.80" y="379.55" font-size="14.15" text-anchor="start" >0.9 wt. % Riboflavin:DNA</text>
<line x1="162.3" y1="392.50" x2="195.5" y2="392.50" stroke="#00ff00" stroke-width="2.6"/>
<text x="198.80" y="397.30" font-size="14.15" text-anchor="start" >0.6 wt. % Riboflavin:DNA</text>
<line x1="162.3" y1="410.25" x2="195.5" y2="410.25" stroke="#ff0000" stroke-width="2.6"/>
<text x="198.80" y="415.05" font-size="14.15" text-anchor="start" >0.3 wt. % Riboflavin:DNA</text>
<line x1="162.3" y1="428.00" x2="195.5" y2="428.00" stroke="#000" stroke-width="2.6"/>
<text x="198.80" y="432.80" font-size="14.15" text-anchor="start" >DNA</text>
<line x1="449.5" y1="337.5" x2="735" y2="337.5" stroke="#8a8a8a" stroke-width="1"/>
<line x1="453.5" y1="337" x2="453.5" y2="651.5" stroke="#787878" stroke-width="1"/>
<line x1="453" y1="647.5" x2="735" y2="647.5" stroke="#787878" stroke-width="1"/>
<line x1="734.5" y1="337" x2="734.5" y2="651.5" stroke="#787878" stroke-width="1"/>
<line x1="449.90" y1="337.5" x2="453.5" y2="337.5" stroke="#787878" stroke-width="1"/>
<text transform="translate(446.30,342.90) scale(0.94,1)" font-size="17.6" text-anchor="end">1.585</text>
<line x1="451.70" y1="346.5" x2="453.5" y2="346.5" stroke="#787878" stroke-width="1"/>
<line x1="732.40" y1="346.5" x2="734.5" y2="346.5" stroke="#787878" stroke-width="1"/>
<line x1="451.70" y1="355.5" x2="453.5" y2="355.5" stroke="#787878" stroke-width="1"/>
<line x1="732.40" y1="355.5" x2="734.5" y2="355.5" stroke="#787878" stroke-width="1"/>
<line x1="451.70" y1="364.5" x2="453.5" y2="364.5" stroke="#787878" stroke-width="1"/>
<line x1="732.40" y1="364.5" x2="734.5" y2="364.5" stroke="#787878" stroke-width="1"/>
<line x1="451.70" y1="373.5" x2="453.5" y2="373.5" stroke="#787878" stroke-width="1"/>
<line x1="732.40" y1="373.5" x2="734.5" y2="373.5" stroke="#787878" stroke-width="1"/>
<line x1="449.90" y1="382.5" x2="453.5" y2="382.5" stroke="#787878" stroke-width="1"/>
<line x1="731.10" y1="382.5" x2="734.5" y2="382.5" stroke="#787878" stroke-width="1"/>
<text transform="translate(446.30,387.02) scale(0.94,1)" font-size="17.6" text-anchor="end">1.580</text>
<line x1="451.70" y1="391.5" x2="453.5" y2="391.5" stroke="#787878" stroke-width="1"/>
<line x1="732.40" y1="391.5" x2="734.5" y2="391.5" stroke="#787878" stroke-width="1"/>
<line x1="451.70" y1="399.5" x2="453.5" y2="399.5" stroke="#787878" stroke-width="1"/>
<line x1="732.40" y1="399.5" x2="734.5" y2="399.5" stroke="#787878" stroke-width="1"/>
<line x1="451.70" y1="408.5" x2="453.5" y2="408.5" stroke="#787878" stroke-width="1"/>
<line x1="732.40" y1="408.5" x2="734.5" y2="408.5" stroke="#787878" stroke-width="1"/>
<line x1="451.70" y1="417.5" x2="453.5" y2="417.5" stroke="#787878" stroke-width="1"/>
<line x1="732.40" y1="417.5" x2="734.5" y2="417.5" stroke="#787878" stroke-width="1"/>
<line x1="449.90" y1="426.5" x2="453.5" y2="426.5" stroke="#787878" stroke-width="1"/>
<line x1="731.10" y1="426.5" x2="734.5" y2="426.5" stroke="#787878" stroke-width="1"/>
<text transform="translate(446.30,431.14) scale(0.94,1)" font-size="17.6" text-anchor="end">1.575</text>
<line x1="451.70" y1="435.5" x2="453.5" y2="435.5" stroke="#787878" stroke-width="1"/>
<line x1="732.40" y1="435.5" x2="734.5" y2="435.5" stroke="#787878" stroke-width="1"/>
<line x1="451.70" y1="443.5" x2="453.5" y2="443.5" stroke="#787878" stroke-width="1"/>
<line x1="732.40" y1="443.5" x2="734.5" y2="443.5" stroke="#787878" stroke-width="1"/>
<line x1="451.70" y1="452.5" x2="453.5" y2="452.5" stroke="#787878" stroke-width="1"/>
<line x1="732.40" y1="452.5" x2="734.5" y2="452.5" stroke="#787878" stroke-width="1"/>
<line x1="451.70" y1="461.5" x2="453.5" y2="461.5" stroke="#787878" stroke-width="1"/>
<line x1="732.40" y1="461.5" x2="734.5" y2="461.5" stroke="#787878" stroke-width="1"/>
<line x1="449.90" y1="470.5" x2="453.5" y2="470.5" stroke="#787878" stroke-width="1"/>
<line x1="731.10" y1="470.5" x2="734.5" y2="470.5" stroke="#787878" stroke-width="1"/>
<text transform="translate(446.30,475.26) scale(0.94,1)" font-size="17.6" text-anchor="end">1.570</text>
<line x1="451.70" y1="479.5" x2="453.5" y2="479.5" stroke="#787878" stroke-width="1"/>
<line x1="732.40" y1="479.5" x2="734.5" y2="479.5" stroke="#787878" stroke-width="1"/>
<line x1="451.70" y1="488.5" x2="453.5" y2="488.5" stroke="#787878" stroke-width="1"/>
<line x1="732.40" y1="488.5" x2="734.5" y2="488.5" stroke="#787878" stroke-width="1"/>
<line x1="451.70" y1="496.5" x2="453.5" y2="496.5" stroke="#787878" stroke-width="1"/>
<line x1="732.40" y1="496.5" x2="734.5" y2="496.5" stroke="#787878" stroke-width="1"/>
<line x1="451.70" y1="505.5" x2="453.5" y2="505.5" stroke="#787878" stroke-width="1"/>
<line x1="732.40" y1="505.5" x2="734.5" y2="505.5" stroke="#787878" stroke-width="1"/>
<line x1="449.90" y1="514.5" x2="453.5" y2="514.5" stroke="#787878" stroke-width="1"/>
<line x1="731.10" y1="514.5" x2="734.5" y2="514.5" stroke="#787878" stroke-width="1"/>
<text transform="translate(446.30,519.38) scale(0.94,1)" font-size="17.6" text-anchor="end">1.565</text>
<line x1="451.70" y1="523.5" x2="453.5" y2="523.5" stroke="#787878" stroke-width="1"/>
<line x1="732.40" y1="523.5" x2="734.5" y2="523.5" stroke="#787878" stroke-width="1"/>
<line x1="451.70" y1="532.5" x2="453.5" y2="532.5" stroke="#787878" stroke-width="1"/>
<line x1="732.40" y1="532.5" x2="734.5" y2="532.5" stroke="#787878" stroke-width="1"/>
<line x1="451.70" y1="541.5" x2="453.5" y2="541.5" stroke="#787878" stroke-width="1"/>
<line x1="732.40" y1="541.5" x2="734.5" y2="541.5" stroke="#787878" stroke-width="1"/>
<line x1="451.70" y1="549.5" x2="453.5" y2="549.5" stroke="#787878" stroke-width="1"/>
<line x1="732.40" y1="549.5" x2="734.5" y2="549.5" stroke="#787878" stroke-width="1"/>
<line x1="449.90" y1="558.5" x2="453.5" y2="558.5" stroke="#787878" stroke-width="1"/>
<line x1="731.10" y1="558.5" x2="734.5" y2="558.5" stroke="#787878" stroke-width="1"/>
<text transform="translate(446.30,563.50) scale(0.94,1)" font-size="17.6" text-anchor="end">1.560</text>
<line x1="451.70" y1="567.5" x2="453.5" y2="567.5" stroke="#787878" stroke-width="1"/>
<line x1="732.40" y1="567.5" x2="734.5" y2="567.5" stroke="#787878" stroke-width="1"/>
<line x1="451.70" y1="576.5" x2="453.5" y2="576.5" stroke="#787878" stroke-width="1"/>
<line x1="732.40" y1="576.5" x2="734.5" y2="576.5" stroke="#787878" stroke-width="1"/>
<line x1="451.70" y1="585.5" x2="453.5" y2="585.5" stroke="#787878" stroke-width="1"/>
<line x1="732.40" y1="585.5" x2="734.5" y2="585.5" stroke="#787878" stroke-width="1"/>
<line x1="451.70" y1="593.5" x2="453.5" y2="593.5" stroke="#787878" stroke-width="1"/>
<line x1="732.40" y1="593.5" x2="734.5" y2="593.5" stroke="#787878" stroke-width="1"/>
<line x1="449.90" y1="602.5" x2="453.5" y2="602.5" stroke="#787878" stroke-width="1"/>
<line x1="731.10" y1="602.5" x2="734.5" y2="602.5" stroke="#787878" stroke-width="1"/>
<text transform="translate(446.30,607.62) scale(0.94,1)" font-size="17.6" text-anchor="end">1.555</text>
<line x1="451.70" y1="611.5" x2="453.5" y2="611.5" stroke="#787878" stroke-width="1"/>
<line x1="732.40" y1="611.5" x2="734.5" y2="611.5" stroke="#787878" stroke-width="1"/>
<line x1="451.70" y1="620.5" x2="453.5" y2="620.5" stroke="#787878" stroke-width="1"/>
<line x1="732.40" y1="620.5" x2="734.5" y2="620.5" stroke="#787878" stroke-width="1"/>
<line x1="451.70" y1="629.5" x2="453.5" y2="629.5" stroke="#787878" stroke-width="1"/>
<line x1="732.40" y1="629.5" x2="734.5" y2="629.5" stroke="#787878" stroke-width="1"/>
<line x1="451.70" y1="638.5" x2="453.5" y2="638.5" stroke="#787878" stroke-width="1"/>
<line x1="732.40" y1="638.5" x2="734.5" y2="638.5" stroke="#787878" stroke-width="1"/>
<line x1="449.90" y1="646.5" x2="453.5" y2="646.5" stroke="#787878" stroke-width="1"/>
<line x1="453.5" y1="647.5" x2="453.5" y2="651.50" stroke="#787878" stroke-width="1"/>
<text transform="translate(453.40,666.80) scale(0.94,1)" font-size="17.6" text-anchor="middle">0.0</text>
<line x1="467.5" y1="647.5" x2="467.5" y2="649.90" stroke="#787878" stroke-width="1"/>
<line x1="481.5" y1="647.5" x2="481.5" y2="649.90" stroke="#787878" stroke-width="1"/>
<line x1="495.5" y1="647.5" x2="495.5" y2="649.90" stroke="#787878" stroke-width="1"/>
<line x1="509.5" y1="647.5" x2="509.5" y2="649.90" stroke="#787878" stroke-width="1"/>
<line x1="523.5" y1="647.5" x2="523.5" y2="651.50" stroke="#787878" stroke-width="1"/>
<text transform="translate(523.80,666.80) scale(0.94,1)" font-size="17.6" text-anchor="middle">0.5</text>
<line x1="537.5" y1="647.5" x2="537.5" y2="649.90" stroke="#787878" stroke-width="1"/>
<line x1="551.5" y1="647.5" x2="551.5" y2="649.90" stroke="#787878" stroke-width="1"/>
<line x1="566.5" y1="647.5" x2="566.5" y2="649.90" stroke="#787878" stroke-width="1"/>
<line x1="580.5" y1="647.5" x2="580.5" y2="649.90" stroke="#787878" stroke-width="1"/>
<line x1="594.5" y1="647.5" x2="594.5" y2="651.50" stroke="#787878" stroke-width="1"/>
<text transform="translate(594.20,666.80) scale(0.94,1)" font-size="17.6" text-anchor="middle">1.0</text>
<line x1="608.5" y1="647.5" x2="608.5" y2="649.90" stroke="#787878" stroke-width="1"/>
<line x1="622.5" y1="647.5" x2="622.5" y2="649.90" stroke="#787878" stroke-width="1"/>
<line x1="636.5" y1="647.5" x2="636.5" y2="649.90" stroke="#787878" stroke-width="1"/>
<line x1="650.5" y1="647.5" x2="650.5" y2="649.90" stroke="#787878" stroke-width="1"/>
<line x1="664.5" y1="647.5" x2="664.5" y2="651.50" stroke="#787878" stroke-width="1"/>
<text transform="translate(664.60,666.80) scale(0.94,1)" font-size="17.6" text-anchor="middle">1.5</text>
<line x1="678.5" y1="647.5" x2="678.5" y2="649.90" stroke="#787878" stroke-width="1"/>
<line x1="692.5" y1="647.5" x2="692.5" y2="649.90" stroke="#787878" stroke-width="1"/>
<line x1="706.5" y1="647.5" x2="706.5" y2="649.90" stroke="#787878" stroke-width="1"/>
<line x1="720.5" y1="647.5" x2="720.5" y2="649.90" stroke="#787878" stroke-width="1"/>
<line x1="735.5" y1="647.5" x2="735.5" y2="651.50" stroke="#787878" stroke-width="1"/>
<text transform="translate(735.00,666.80) scale(0.94,1)" font-size="17.6" text-anchor="middle">2.0</text>
<text x="593.50" y="697.50" font-size="20.2" text-anchor="middle" >Riboflavin concentration (wt. %)</text>
<text x="0" y="0" font-size="19.6" text-anchor="middle" transform="translate(399.6,513.7) rotate(-90)">Refractive index</text>
<text x="388.20" y="366.90" font-size="25" text-anchor="start" font-weight="bold">c</text>
<clipPath id="clipC"><rect x="453.4" y="338.0" width="281.6" height="309.29999999999995"/></clipPath>
<g clip-path="url(#clipC)">
<line x1="453.4" y1="526.7" x2="735.0" y2="360.0" stroke="#00f000" stroke-width="2.6"/>
<line x1="453.4" y1="576.0" x2="735.0" y2="439.5" stroke="#000" stroke-width="2.6"/>
<line x1="453.40" y1="526.10" x2="453.40" y2="559.10" stroke="#00f000" stroke-width="1.8"/>
<circle cx="453.4" cy="542.6" r="3.6" fill="#00f000"/>
<line x1="495.90" y1="475.40" x2="495.90" y2="508.40" stroke="#00f000" stroke-width="1.8"/>
<circle cx="495.9" cy="491.9" r="3.6" fill="#00f000"/>
<line x1="538.40" y1="459.70" x2="538.40" y2="492.70" stroke="#00f000" stroke-width="1.8"/>
<circle cx="538.4" cy="476.2" r="3.6" fill="#00f000"/>
<line x1="581.20" y1="423.80" x2="581.20" y2="456.80" stroke="#00f000" stroke-width="1.8"/>
<circle cx="581.2" cy="440.3" r="3.6" fill="#00f000"/>
<line x1="650.10" y1="389.40" x2="650.10" y2="422.40" stroke="#00f000" stroke-width="1.8"/>
<circle cx="650.1" cy="405.9" r="3.6" fill="#00f000"/>
<line x1="709.10" y1="369.40" x2="709.10" y2="402.40" stroke="#00f000" stroke-width="1.8"/>
<circle cx="709.1" cy="385.9" r="3.6" fill="#00f000"/>
<line x1="453.40" y1="566.10" x2="453.40" y2="599.70" stroke="#000" stroke-width="1.8"/>
<rect x="450.20" y="579.70" width="6.4" height="6.4" fill="#000"/>
<line x1="495.90" y1="534.80" x2="495.90" y2="568.40" stroke="#000" stroke-width="1.8"/>
<rect x="492.70" y="548.40" width="6.4" height="6.4" fill="#000"/>
<line x1="538.60" y1="521.60" x2="538.60" y2="555.20" stroke="#000" stroke-width="1.8"/>
<rect x="535.40" y="535.20" width="6.4" height="6.4" fill="#000"/>
<line x1="581.30" y1="488.70" x2="581.30" y2="522.30" stroke="#000" stroke-width="1.8"/>
<rect x="578.10" y="502.30" width="6.4" height="6.4" fill="#000"/>
<line x1="650.10" y1="459.20" x2="650.10" y2="492.80" stroke="#000" stroke-width="1.8"/>
<rect x="646.90" y="472.80" width="6.4" height="6.4" fill="#000"/>
<line x1="709.10" y1="442.40" x2="709.10" y2="476.00" stroke="#000" stroke-width="1.8"/>
<rect x="705.90" y="456.00" width="6.4" height="6.4" fill="#000"/>
</g>
<rect x="513.5" y="583.5" width="209" height="35" fill="#fff" stroke="#8a8a8a" stroke-width="1"/>
<circle cx="530.8" cy="593.2" r="6.2" fill="#00f000"/>
<rect x="525.2" y="605.3" width="11.2" height="11.2" fill="#000"/>
<text x="550.30" y="597.60" font-size="14.2" text-anchor="start" >Refractive index at 530.0 nm</text>
<text x="550.30" y="615.00" font-size="14.2" text-anchor="start" >Refractive index at 632.8 nm</text>
</svg>
</body></html>
